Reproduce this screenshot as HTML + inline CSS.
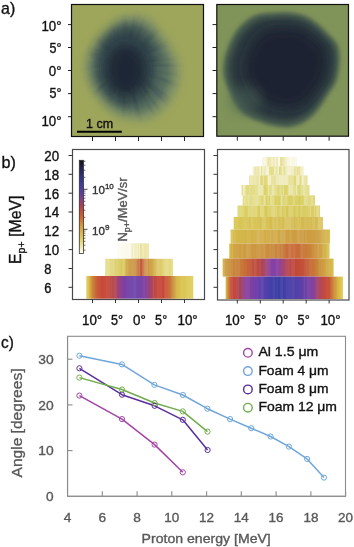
<!DOCTYPE html>
<html><head><meta charset="utf-8"><style>
html,body{margin:0;padding:0;background:#fff;width:354px;height:547px;overflow:hidden}
svg{display:block;filter:blur(0.35px)}
</style></head><body>
<svg width="354" height="547" viewBox="0 0 354 547">
<defs><mask id="mLb" maskUnits="userSpaceOnUse" x="60" y="0" width="150" height="140"><path d="M122.2,19.4 C126.6,17.3 131.4,17.3 135.5,17.5 C139.6,17.6 143.1,17.8 146.9,20.3 C150.7,22.8 154.3,27.6 158.3,32.7 C162.3,37.7 167.5,44.5 170.7,50.7 C173.8,56.9 176.7,63.5 177.3,69.7 C177.9,75.9 176.7,81.9 174.4,87.8 C172.2,93.6 168.1,100.1 164.0,104.8 C159.9,109.6 154.5,114.0 149.8,116.2 C145.0,118.5 140.6,118.5 135.5,118.2 C130.4,117.8 124.1,116.4 119.3,114.3 C114.6,112.3 111.1,109.8 107.0,105.8 C102.9,101.8 98.0,96.1 94.7,90.6 C91.3,85.1 88.2,78.1 87.1,72.5 C85.9,67.0 86.4,62.4 88.0,57.4 C89.6,52.3 93.1,46.7 96.5,42.2 C100.0,37.6 104.6,33.6 108.9,29.8 C113.2,26.0 117.8,21.4 122.2,19.4Z" fill="#fff" filter="url(#blur4)"/></mask><linearGradient id="g1" gradientUnits="userSpaceOnUse" x1="117" y1="0" x2="149" y2="0"><stop offset="0.0000" stop-color="#fdfcf4" stop-opacity="1"/><stop offset="0.4375" stop-color="#fbf9ec" stop-opacity="1"/><stop offset="0.4844" stop-color="#ece6a4" stop-opacity="1"/><stop offset="0.7188" stop-color="#e8e098" stop-opacity="1"/><stop offset="0.9875" stop-color="#eee8b0" stop-opacity="1"/></linearGradient><linearGradient id="g2" gradientUnits="userSpaceOnUse" x1="105.3" y1="0" x2="173" y2="0"><stop offset="0.0000" stop-color="#e2d87c" stop-opacity="1"/><stop offset="0.1433" stop-color="#dcd06a" stop-opacity="1"/><stop offset="0.2762" stop-color="#d8c456" stop-opacity="1"/><stop offset="0.3353" stop-color="#cea044" stop-opacity="1"/><stop offset="0.4535" stop-color="#c88c3a" stop-opacity="1"/><stop offset="0.4978" stop-color="#c4623a" stop-opacity="1"/><stop offset="0.5273" stop-color="#c05030" stop-opacity="1"/><stop offset="0.5569" stop-color="#c4683a" stop-opacity="1"/><stop offset="0.6160" stop-color="#cc9440" stop-opacity="1"/><stop offset="0.6898" stop-color="#d0a444" stop-opacity="1"/><stop offset="0.7784" stop-color="#d8c050" stop-opacity="1"/><stop offset="0.8966" stop-color="#e0d470" stop-opacity="1"/><stop offset="1.0000" stop-color="#e4da80" stop-opacity="1"/></linearGradient><linearGradient id="g3" gradientUnits="userSpaceOnUse" x1="86.3" y1="0" x2="193.3" y2="0"><stop offset="0.0000" stop-color="#e0cc58" stop-opacity="1"/><stop offset="0.0252" stop-color="#d8bc48" stop-opacity="1"/><stop offset="0.0533" stop-color="#cc8c3c" stop-opacity="1"/><stop offset="0.0907" stop-color="#c86438" stop-opacity="1"/><stop offset="0.1280" stop-color="#c84c38" stop-opacity="1"/><stop offset="0.2028" stop-color="#c44438" stop-opacity="1"/><stop offset="0.2589" stop-color="#b44448" stop-opacity="1"/><stop offset="0.3056" stop-color="#9a4080" stop-opacity="1"/><stop offset="0.3523" stop-color="#7c40a4" stop-opacity="1"/><stop offset="0.4271" stop-color="#6c40aa" stop-opacity="1"/><stop offset="0.5019" stop-color="#7040a8" stop-opacity="1"/><stop offset="0.5579" stop-color="#8440a0" stop-opacity="1"/><stop offset="0.6047" stop-color="#a84460" stop-opacity="1"/><stop offset="0.6514" stop-color="#c44840" stop-opacity="1"/><stop offset="0.7262" stop-color="#c84838" stop-opacity="1"/><stop offset="0.7729" stop-color="#c86838" stop-opacity="1"/><stop offset="0.8103" stop-color="#cc9040" stop-opacity="1"/><stop offset="0.8570" stop-color="#d8bc48" stop-opacity="1"/><stop offset="0.9318" stop-color="#dcc858" stop-opacity="1"/><stop offset="1.0000" stop-color="#e2d264" stop-opacity="1"/></linearGradient><linearGradient id="g4" gradientUnits="userSpaceOnUse" x1="262" y1="0" x2="297" y2="0"><stop offset="0.0000" stop-color="#f4f0d0" stop-opacity="1"/><stop offset="0.1143" stop-color="#e6e094" stop-opacity="1"/><stop offset="0.6571" stop-color="#e4de8c" stop-opacity="1"/><stop offset="0.8286" stop-color="#ece6a8" stop-opacity="1"/><stop offset="1.0000" stop-color="#f6f2d4" stop-opacity="1"/></linearGradient><linearGradient id="g5" gradientUnits="userSpaceOnUse" x1="252.5" y1="0" x2="303.5" y2="0"><stop offset="0.0000" stop-color="#f4f0d0" stop-opacity="1"/><stop offset="0.1078" stop-color="#e2dc84" stop-opacity="1"/><stop offset="0.8333" stop-color="#e0da80" stop-opacity="1"/><stop offset="1.0000" stop-color="#ece6a8" stop-opacity="1"/></linearGradient><linearGradient id="g6" gradientUnits="userSpaceOnUse" x1="249" y1="0" x2="307.5" y2="0"><stop offset="0.0000" stop-color="#ece6a8" stop-opacity="1"/><stop offset="0.0855" stop-color="#e0d87a" stop-opacity="1"/><stop offset="0.8718" stop-color="#dfd776" stop-opacity="1"/><stop offset="1.0000" stop-color="#e8e296" stop-opacity="1"/></linearGradient><linearGradient id="g7" gradientUnits="userSpaceOnUse" x1="241.5" y1="0" x2="310" y2="0"><stop offset="0.0000" stop-color="#e6e092" stop-opacity="1"/><stop offset="0.0657" stop-color="#dcd46a" stop-opacity="1"/><stop offset="0.8540" stop-color="#dad266" stop-opacity="1"/><stop offset="1.0000" stop-color="#e2dc80" stop-opacity="1"/></linearGradient><linearGradient id="g8" gradientUnits="userSpaceOnUse" x1="242.6" y1="0" x2="315" y2="0"><stop offset="0.0000" stop-color="#e4de88" stop-opacity="1"/><stop offset="0.1022" stop-color="#dad264" stop-opacity="1"/><stop offset="0.8619" stop-color="#d8ce5e" stop-opacity="1"/><stop offset="1.0000" stop-color="#dfd674" stop-opacity="1"/></linearGradient><linearGradient id="g9" gradientUnits="userSpaceOnUse" x1="237.5" y1="0" x2="320" y2="0"><stop offset="0.0000" stop-color="#dcd468" stop-opacity="1"/><stop offset="0.0909" stop-color="#d8cc58" stop-opacity="1"/><stop offset="0.7576" stop-color="#d6c654" stop-opacity="1"/><stop offset="1.0000" stop-color="#dacc5e" stop-opacity="1"/></linearGradient><linearGradient id="g10" gradientUnits="userSpaceOnUse" x1="233.7" y1="0" x2="323" y2="0"><stop offset="0.0000" stop-color="#dccc5c" stop-opacity="1"/><stop offset="0.0705" stop-color="#d8c450" stop-opacity="1"/><stop offset="0.6305" stop-color="#d4ba4c" stop-opacity="1"/><stop offset="0.9104" stop-color="#d4b84c" stop-opacity="1"/><stop offset="1.0000" stop-color="#dac458" stop-opacity="1"/></linearGradient><linearGradient id="g11" gradientUnits="userSpaceOnUse" x1="230.6" y1="0" x2="330" y2="0"><stop offset="0.0000" stop-color="#d8c250" stop-opacity="1"/><stop offset="0.0543" stop-color="#d4b84a" stop-opacity="1"/><stop offset="0.3964" stop-color="#d2aa46" stop-opacity="1"/><stop offset="0.6982" stop-color="#cc9a40" stop-opacity="1"/><stop offset="0.8793" stop-color="#cea044" stop-opacity="1"/><stop offset="1.0000" stop-color="#d8c050" stop-opacity="1"/></linearGradient><linearGradient id="g12" gradientUnits="userSpaceOnUse" x1="229.3" y1="0" x2="329.5" y2="0"><stop offset="0.0000" stop-color="#d8bc48" stop-opacity="1"/><stop offset="0.0569" stop-color="#cea040" stop-opacity="1"/><stop offset="0.3064" stop-color="#cc9640" stop-opacity="1"/><stop offset="0.4860" stop-color="#c8843a" stop-opacity="1"/><stop offset="0.5858" stop-color="#c86c38" stop-opacity="1"/><stop offset="0.6856" stop-color="#c86c38" stop-opacity="1"/><stop offset="0.7854" stop-color="#c88038" stop-opacity="1"/><stop offset="0.8852" stop-color="#cc9840" stop-opacity="1"/><stop offset="1.0000" stop-color="#d8c44c" stop-opacity="1"/></linearGradient><linearGradient id="g13" gradientUnits="userSpaceOnUse" x1="222.6" y1="0" x2="333.6" y2="0"><stop offset="0.0000" stop-color="#d8c050" stop-opacity="1"/><stop offset="0.0261" stop-color="#cc9a40" stop-opacity="1"/><stop offset="0.0847" stop-color="#c88838" stop-opacity="1"/><stop offset="0.1748" stop-color="#c87838" stop-opacity="1"/><stop offset="0.2468" stop-color="#c45a3a" stop-opacity="1"/><stop offset="0.3189" stop-color="#bc4840" stop-opacity="1"/><stop offset="0.3730" stop-color="#a84460" stop-opacity="1"/><stop offset="0.4270" stop-color="#8c40a0" stop-opacity="1"/><stop offset="0.4811" stop-color="#8040a8" stop-opacity="1"/><stop offset="0.5261" stop-color="#9a4488" stop-opacity="1"/><stop offset="0.5892" stop-color="#b84850" stop-opacity="1"/><stop offset="0.6613" stop-color="#c04838" stop-opacity="1"/><stop offset="0.7423" stop-color="#c45438" stop-opacity="1"/><stop offset="0.8054" stop-color="#c87038" stop-opacity="1"/><stop offset="0.8595" stop-color="#c88838" stop-opacity="1"/><stop offset="0.9225" stop-color="#d0a444" stop-opacity="1"/><stop offset="1.0000" stop-color="#d8c050" stop-opacity="1"/></linearGradient><linearGradient id="g14" gradientUnits="userSpaceOnUse" x1="225.6" y1="0" x2="343" y2="0"><stop offset="0.0000" stop-color="#d8c048" stop-opacity="1"/><stop offset="0.0204" stop-color="#cc8838" stop-opacity="1"/><stop offset="0.0460" stop-color="#c84c38" stop-opacity="1"/><stop offset="0.0886" stop-color="#c04640" stop-opacity="1"/><stop offset="0.1227" stop-color="#a84458" stop-opacity="1"/><stop offset="0.1738" stop-color="#8a40a0" stop-opacity="1"/><stop offset="0.2504" stop-color="#7440a8" stop-opacity="1"/><stop offset="0.3101" stop-color="#5c40ac" stop-opacity="1"/><stop offset="0.3782" stop-color="#4440a8" stop-opacity="1"/><stop offset="0.4634" stop-color="#3c3ea4" stop-opacity="1"/><stop offset="0.5486" stop-color="#4840a8" stop-opacity="1"/><stop offset="0.6337" stop-color="#5840a8" stop-opacity="1"/><stop offset="0.6934" stop-color="#7040a4" stop-opacity="1"/><stop offset="0.7445" stop-color="#8440a0" stop-opacity="1"/><stop offset="0.7871" stop-color="#a84468" stop-opacity="1"/><stop offset="0.8382" stop-color="#c44840" stop-opacity="1"/><stop offset="0.8893" stop-color="#c85834" stop-opacity="1"/><stop offset="0.9233" stop-color="#cc8c38" stop-opacity="1"/><stop offset="0.9574" stop-color="#d8b840" stop-opacity="1"/><stop offset="1.0000" stop-color="#e0d060" stop-opacity="1"/></linearGradient><linearGradient id="cmr" x1="0" y1="0" x2="0" y2="1"><stop offset="0" stop-color="#111"/><stop offset="0.1" stop-color="#262660"/><stop offset="0.25" stop-color="#3c3c9c"/><stop offset="0.38" stop-color="#6a3c9c"/><stop offset="0.5" stop-color="#b84048"/><stop offset="0.6" stop-color="#d06030"/><stop offset="0.72" stop-color="#d8a038"/><stop offset="0.85" stop-color="#e0d060"/><stop offset="1" stop-color="#fffff4"/></linearGradient>
<filter id="blur1" x="-10%" y="-10%" width="120%" height="120%"><feGaussianBlur stdDeviation="0.8"/></filter>
<filter id="blur2" x="-10%" y="-10%" width="120%" height="120%"><feGaussianBlur stdDeviation="2"/></filter>
<filter id="blur3" x="-30%" y="-30%" width="160%" height="160%"><feGaussianBlur stdDeviation="3"/></filter>
<filter id="blur4" x="-30%" y="-30%" width="160%" height="160%"><feGaussianBlur stdDeviation="4"/></filter>
<filter id="blur7" x="-30%" y="-30%" width="160%" height="160%"><feGaussianBlur stdDeviation="8"/></filter>
<filter id="blur5" x="-30%" y="-30%" width="160%" height="160%"><feGaussianBlur stdDeviation="6"/></filter>
<clipPath id="clipL"><rect x="71.5" y="4.5" width="132.5" height="132"/></clipPath>
<clipPath id="clipR"><rect x="216.5" y="4.5" width="132" height="132"/></clipPath>
</defs>
<text x="1" y="14" font-size="17" font-family="Liberation Sans, sans-serif" fill="#111" textLength="14.2" lengthAdjust="spacingAndGlyphs" stroke="#111" stroke-width="0.35">a)</text>
<text x="1.6" y="168" font-size="17" font-family="Liberation Sans, sans-serif" fill="#111" textLength="14.4" lengthAdjust="spacingAndGlyphs" stroke="#111" stroke-width="0.35">b)</text>
<text x="1" y="348" font-size="17" font-family="Liberation Sans, sans-serif" fill="#111" textLength="12.8" lengthAdjust="spacingAndGlyphs" stroke="#111" stroke-width="0.35">c)</text>
<g id="pa">
<rect x="71.5" y="4.5" width="132.0" height="132.0" fill="#9ea65c"/>
<rect x="216.8" y="4.5" width="131.7" height="131.7" fill="#809359"/>
<g clip-path="url(#clipL)">
<path d="M122.0,17.0 C126.7,14.8 131.7,14.8 136.0,15.0 C140.3,15.2 144.0,15.3 148.0,18.0 C152.0,20.7 155.8,25.7 160.0,31.0 C164.2,36.3 169.7,43.5 173.0,50.0 C176.3,56.5 179.3,63.5 180.0,70.0 C180.7,76.5 179.3,82.8 177.0,89.0 C174.7,95.2 170.3,102.0 166.0,107.0 C161.7,112.0 156.0,116.7 151.0,119.0 C146.0,121.3 141.3,121.3 136.0,121.0 C130.7,120.7 124.0,119.2 119.0,117.0 C114.0,114.8 110.3,112.2 106.0,108.0 C101.7,103.8 96.5,97.8 93.0,92.0 C89.5,86.2 86.2,78.8 85.0,73.0 C83.8,67.2 84.3,62.3 86.0,57.0 C87.7,51.7 91.3,45.8 95.0,41.0 C98.7,36.2 103.5,32.0 108.0,28.0 C112.5,24.0 117.3,19.2 122.0,17.0Z" fill="#7a8e6c" filter="url(#blur4)" opacity="0.8"/>
<path d="M123.0,24.8 C126.9,23.0 131.1,23.0 134.7,23.2 C138.4,23.3 141.4,23.4 144.8,25.7 C148.2,27.9 151.4,32.1 154.9,36.6 C158.4,41.1 163.0,47.1 165.8,52.6 C168.6,58.0 171.1,63.9 171.7,69.4 C172.2,74.8 171.1,80.1 169.2,85.3 C167.2,90.5 163.6,96.2 159.9,100.4 C156.3,104.6 151.5,108.6 147.3,110.5 C143.1,112.5 139.2,112.5 134.7,112.2 C130.2,111.9 124.6,110.7 120.4,108.8 C116.2,107.0 113.2,104.8 109.5,101.3 C105.9,97.8 101.5,92.7 98.6,87.8 C95.7,82.9 92.9,76.8 91.9,71.9 C90.9,67.0 91.3,62.9 92.7,58.4 C94.1,54.0 97.2,49.1 100.3,45.0 C103.4,40.9 107.4,37.4 111.2,34.1 C115.0,30.7 119.0,26.7 123.0,24.8Z" fill="#506860" filter="url(#blur4)" opacity="0.9"/>
<ellipse cx="127" cy="66" rx="30" ry="40" fill="#32444c" filter="url(#blur5)"/>
<ellipse cx="126" cy="70" rx="19" ry="25" fill="#1e2834" filter="url(#blur5)"/>
<g mask="url(#mLb)"><g filter="url(#blur1)"><path d="M156.7,64.0 L185.0,64.0 L185.0,66.2 L156.6,65.2Z" fill="#1e2a34" opacity="0.05"/><path d="M160.4,65.3 L185.0,66.2 L184.8,69.4 L160.3,67.2Z" fill="#a0a868" opacity="0.02"/><path d="M154.4,66.7 L184.8,69.4 L184.5,71.6 L154.3,67.8Z" fill="#a0a868" opacity="0.09"/><path d="M149.2,67.1 L184.5,71.6 L183.9,75.3 L149.0,68.6Z" fill="#a0a868" opacity="0.06"/><path d="M158.2,70.4 L183.9,75.3 L183.2,78.5 L157.9,72.2Z" fill="#1e2a34" opacity="0.06"/><path d="M155.5,71.6 L183.2,78.5 L182.3,81.7 L155.1,73.3Z" fill="#a0a868" opacity="0.07"/><path d="M153.2,72.7 L182.3,81.7 L181.6,83.9 L152.9,73.8Z" fill="#a0a868" opacity="0.08"/><path d="M159.6,76.2 L181.6,83.9 L180.3,87.2 L158.9,78.2Z" fill="#1e2a34" opacity="0.07"/><path d="M159.1,78.3 L180.3,87.2 L179.3,89.5 L158.5,79.7Z" fill="#1e2a34" opacity="0.05"/><path d="M148.0,74.8 L179.3,89.5 L177.5,93.0 L147.3,76.3Z" fill="#a0a868" opacity="0.03"/><path d="M148.5,77.0 L177.5,93.0 L175.4,96.5 L147.5,78.5Z" fill="#a0a868" opacity="0.06"/><path d="M151.4,81.0 L175.4,96.5 L173.8,98.9 L150.5,82.2Z" fill="#a0a868" opacity="0.04"/><path d="M155.0,85.4 L173.8,98.9 L171.9,101.4 L153.8,87.0Z" fill="#1e2a34" opacity="0.07"/><path d="M144.2,79.3 L171.9,101.4 L169.5,104.3 L143.2,80.5Z" fill="#1e2a34" opacity="0.07"/><path d="M148.0,84.9 L169.5,104.3 L166.8,107.0 L146.7,86.3Z" fill="#1e2a34" opacity="0.08"/><path d="M146.7,86.4 L166.8,107.0 L164.3,109.4 L145.4,87.6Z" fill="#a0a868" opacity="0.08"/><path d="M149.8,92.6 L164.3,109.4 L162.5,110.8 L148.6,93.5Z" fill="#a0a868" opacity="0.08"/><path d="M140.3,83.1 L162.5,110.8 L161.1,112.0 L139.7,83.5Z" fill="#1e2a34" opacity="0.05"/><path d="M138.6,82.1 L161.1,112.0 L159.2,113.3 L137.9,82.7Z" fill="#1e2a34" opacity="0.08"/><path d="M140.5,86.4 L159.2,113.3 L156.5,115.1 L139.3,87.2Z" fill="#a0a868" opacity="0.07"/><path d="M144.9,96.3 L156.5,115.1 L153.1,117.0 L142.8,97.5Z" fill="#1e2a34" opacity="0.06"/><path d="M135.6,83.9 L153.1,117.0 L151.0,118.1 L134.8,84.3Z" fill="#a0a868" opacity="0.06"/><path d="M135.6,86.1 L151.0,118.1 L149.1,118.9 L134.8,86.4Z" fill="#a0a868" opacity="0.06"/><path d="M140.0,98.2 L149.1,118.9 L147.6,119.6 L139.0,98.6Z" fill="#1e2a34" opacity="0.04"/><path d="M136.4,92.1 L147.6,119.6 L143.9,120.9 L134.6,92.8Z" fill="#a0a868" opacity="0.05"/><path d="M135.1,94.3 L143.9,120.9 L140.8,121.9 L133.4,94.8Z" fill="#1e2a34" opacity="0.06"/><path d="M133.8,96.3 L140.8,121.9 L136.9,122.8 L131.6,96.9Z" fill="#1e2a34" opacity="0.05"/><path d="M131.0,93.7 L136.9,122.8 L134.7,123.2 L129.9,93.9Z" fill="#a0a868" opacity="0.09"/><path d="M130.1,94.9 L134.7,123.2 L131.7,123.6 L128.5,95.1Z" fill="#a0a868" opacity="0.05"/><path d="M127.6,86.8 L131.7,123.6 L130.1,123.8 L127.0,86.9Z" fill="#1e2a34" opacity="0.06"/><path d="M127.4,91.5 L130.1,123.8 L126.9,124.0 L125.9,91.6Z" fill="#a0a868" opacity="0.07"/><path d="M125.7,87.0 L126.9,124.0 L123.5,124.0 L124.4,87.0Z" fill="#1e2a34" opacity="0.02"/><path d="M124.3,93.3 L123.5,124.0 L120.1,123.8 L122.6,93.2Z" fill="#1e2a34" opacity="0.04"/><path d="M122.8,90.9 L120.1,123.8 L117.0,123.5 L121.4,90.8Z" fill="#a0a868" opacity="0.05"/><path d="M121.3,91.8 L117.0,123.5 L114.5,123.1 L120.1,91.6Z" fill="#1e2a34" opacity="0.04"/><path d="M119.1,97.2 L114.5,123.1 L111.0,122.3 L117.1,96.8Z" fill="#a0a868" opacity="0.06"/><path d="M119.0,89.1 L111.0,122.3 L108.7,121.7 L118.0,88.8Z" fill="#a0a868" opacity="0.08"/><path d="M118.6,86.7 L108.7,121.7 L106.7,121.2 L117.8,86.5Z" fill="#a0a868" opacity="0.07"/><path d="M116.2,91.6 L106.7,121.2 L104.5,120.4 L115.1,91.3Z" fill="#a0a868" opacity="0.08"/><path d="M113.9,94.4 L104.5,120.4 L100.9,119.0 L112.0,93.7Z" fill="#a0a868" opacity="0.04"/><path d="M115.4,85.9 L100.9,119.0 L97.4,117.3 L114.0,85.3Z" fill="#a0a868" opacity="0.04"/><path d="M108.7,95.4 L97.4,117.3 L94.8,115.9 L107.2,94.6Z" fill="#a0a868" opacity="0.08"/><path d="M108.8,91.9 L94.8,115.9 L93.1,114.8 L107.8,91.3Z" fill="#a0a868" opacity="0.08"/><path d="M110.8,86.6 L93.1,114.8 L90.0,112.7 L109.4,85.7Z" fill="#a0a868" opacity="0.03"/><path d="M108.3,87.3 L90.0,112.7 L87.1,110.5 L106.9,86.2Z" fill="#a0a868" opacity="0.04"/><path d="M109.5,83.0 L87.1,110.5 L85.1,108.8 L108.7,82.3Z" fill="#a0a868" opacity="0.08"/><path d="M99.9,92.2 L85.1,108.8 L83.9,107.7 L99.1,91.5Z" fill="#1e2a34" opacity="0.08"/><path d="M107.5,82.6 L83.9,107.7 L82.0,105.8 L106.7,81.8Z" fill="#1e2a34" opacity="0.08"/><path d="M103.3,85.1 L82.0,105.8 L79.6,103.2 L102.1,83.8Z" fill="#1e2a34" opacity="0.07"/><path d="M107.5,79.1 L79.6,103.2 L78.1,101.4 L107.0,78.4Z" fill="#a0a868" opacity="0.04"/><path d="M107.2,78.2 L78.1,101.4 L76.2,99.0 L106.5,77.2Z" fill="#a0a868" opacity="0.08"/><path d="M95.5,85.2 L76.2,99.0 L74.0,95.7 L94.1,83.2Z" fill="#1e2a34" opacity="0.08"/><path d="M96.2,81.9 L74.0,95.7 L72.1,92.3 L95.1,80.0Z" fill="#1e2a34" opacity="0.02"/><path d="M98.2,78.3 L72.1,92.3 L71.2,90.5 L97.7,77.4Z" fill="#a0a868" opacity="0.07"/><path d="M100.4,76.1 L71.2,90.5 L70.0,88.1 L99.8,75.0Z" fill="#1e2a34" opacity="0.06"/><path d="M93.4,77.9 L70.0,88.1 L69.2,86.0 L92.9,76.7Z" fill="#1e2a34" opacity="0.05"/><path d="M92.4,76.9 L69.2,86.0 L68.3,83.7 L91.9,75.5Z" fill="#a0a868" opacity="0.06"/><path d="M92.0,75.4 L68.3,83.7 L67.7,81.8 L91.7,74.3Z" fill="#1e2a34" opacity="0.08"/><path d="M90.8,74.6 L67.7,81.8 L66.7,78.2 L90.2,72.5Z" fill="#a0a868" opacity="0.06"/><path d="M95.4,71.2 L66.7,78.2 L66.3,76.5 L95.2,70.3Z" fill="#a0a868" opacity="0.04"/><path d="M103.5,68.6 L66.3,76.5 L65.8,73.9 L103.3,67.6Z" fill="#a0a868" opacity="0.07"/><path d="M102.2,67.8 L65.8,73.9 L65.6,72.2 L102.1,67.2Z" fill="#a0a868" opacity="0.03"/><path d="M95.2,68.1 L65.6,72.2 L65.1,68.1 L95.0,66.0Z" fill="#1e2a34" opacity="0.03"/><path d="M92.7,66.2 L65.1,68.1 L65.0,65.7 L92.7,64.9Z" fill="#a0a868" opacity="0.04"/><path d="M97.8,64.8 L65.0,65.7 L65.0,62.6 L97.7,63.4Z" fill="#a0a868" opacity="0.03"/><path d="M96.9,63.3 L65.0,62.6 L65.1,60.7 L97.0,62.5Z" fill="#1e2a34" opacity="0.07"/><path d="M93.4,62.3 L65.1,60.7 L65.2,58.9 L93.4,61.3Z" fill="#a0a868" opacity="0.05"/><path d="M93.1,61.3 L65.2,58.9 L65.6,55.3 L93.4,59.4Z" fill="#a0a868" opacity="0.08"/><path d="M92.1,59.2 L65.6,55.3 L66.1,52.7 L92.4,57.7Z" fill="#a0a868" opacity="0.05"/><path d="M99.5,59.1 L66.1,52.7 L66.6,50.0 L99.8,58.0Z" fill="#1e2a34" opacity="0.05"/><path d="M97.0,57.3 L66.6,50.0 L67.4,47.2 L97.4,55.9Z" fill="#1e2a34" opacity="0.03"/><path d="M98.1,56.2 L67.4,47.2 L68.2,44.6 L98.5,55.0Z" fill="#1e2a34" opacity="0.09"/><path d="M97.2,54.5 L68.2,44.6 L69.6,40.9 L97.8,52.7Z" fill="#1e2a34" opacity="0.04"/><path d="M91.6,50.1 L69.6,40.9 L70.4,39.2 L92.0,49.0Z" fill="#1e2a34" opacity="0.07"/><path d="M96.7,51.2 L70.4,39.2 L72.0,35.9 L97.6,49.5Z" fill="#1e2a34" opacity="0.07"/><path d="M103.5,52.6 L72.0,35.9 L72.9,34.3 L103.9,52.0Z" fill="#1e2a34" opacity="0.02"/><path d="M104.5,52.3 L72.9,34.3 L74.7,31.3 L105.2,51.1Z" fill="#a0a868" opacity="0.03"/><path d="M95.3,44.6 L74.7,31.3 L76.9,28.1 L96.6,42.8Z" fill="#a0a868" opacity="0.02"/><path d="M96.7,42.8 L76.9,28.1 L78.1,26.6 L97.3,41.9Z" fill="#1e2a34" opacity="0.07"/><path d="M107.3,49.9 L78.1,26.6 L80.7,23.5 L108.3,48.8Z" fill="#1e2a34" opacity="0.08"/><path d="M107.5,48.0 L80.7,23.5 L83.2,20.9 L108.5,47.0Z" fill="#1e2a34" opacity="0.07"/><path d="M106.1,44.5 L83.2,20.9 L85.8,18.5 L107.3,43.4Z" fill="#1e2a34" opacity="0.02"/><path d="M108.8,45.2 L85.8,18.5 L88.2,16.6 L109.7,44.4Z" fill="#1e2a34" opacity="0.04"/><path d="M107.6,41.7 L88.2,16.6 L90.0,15.3 L108.5,41.0Z" fill="#1e2a34" opacity="0.07"/><path d="M108.3,40.7 L90.0,15.3 L92.1,13.8 L109.3,40.0Z" fill="#a0a868" opacity="0.04"/><path d="M109.3,40.1 L92.1,13.8 L93.6,12.9 L110.0,39.6Z" fill="#1e2a34" opacity="0.09"/><path d="M107.1,35.0 L93.6,12.9 L96.6,11.1 L108.9,34.0Z" fill="#a0a868" opacity="0.07"/><path d="M109.7,35.5 L96.6,11.1 L99.6,9.6 L111.3,34.7Z" fill="#1e2a34" opacity="0.05"/><path d="M110.6,33.2 L99.6,9.6 L103.2,8.1 L112.7,32.3Z" fill="#a0a868" opacity="0.03"/><path d="M112.8,32.8 L103.2,8.1 L107.0,6.8 L114.9,32.0Z" fill="#1e2a34" opacity="0.05"/><path d="M115.6,34.1 L107.0,6.8 L108.9,6.2 L116.6,33.8Z" fill="#a0a868" opacity="0.03"/><path d="M115.0,28.1 L108.9,6.2 L111.3,5.6 L116.5,27.7Z" fill="#a0a868" opacity="0.07"/><path d="M116.8,29.3 L111.3,5.6 L113.5,5.1 L118.2,29.0Z" fill="#1e2a34" opacity="0.05"/><path d="M120.7,42.0 L113.5,5.1 L116.6,4.6 L121.9,41.9Z" fill="#a0a868" opacity="0.04"/><path d="M121.1,36.5 L116.6,4.6 L119.4,4.3 L122.4,36.4Z" fill="#a0a868" opacity="0.03"/><path d="M121.5,26.3 L119.4,4.3 L121.8,4.1 L123.0,26.2Z" fill="#1e2a34" opacity="0.03"/><path d="M123.1,28.7 L121.8,4.1 L124.6,4.0 L124.8,28.6Z" fill="#1e2a34" opacity="0.05"/><path d="M124.8,30.5 L124.6,4.0 L128.4,4.1 L126.9,30.5Z" fill="#1e2a34" opacity="0.05"/><path d="M127.1,26.7 L128.4,4.1 L132.2,4.4 L129.5,26.9Z" fill="#a0a868" opacity="0.07"/><path d="M129.0,30.8 L132.2,4.4 L134.9,4.8 L130.5,31.0Z" fill="#a0a868" opacity="0.04"/><path d="M129.3,38.5 L134.9,4.8 L138.2,5.5 L130.7,38.8Z" fill="#1e2a34" opacity="0.08"/><path d="M132.3,31.5 L138.2,5.5 L140.2,6.0 L133.4,31.8Z" fill="#a0a868" opacity="0.03"/><path d="M134.1,29.3 L140.2,6.0 L143.9,7.0 L136.3,30.0Z" fill="#1e2a34" opacity="0.04"/><path d="M132.4,41.8 L143.9,7.0 L146.1,7.8 L133.2,42.1Z" fill="#a0a868" opacity="0.07"/><path d="M134.8,38.1 L146.1,7.8 L147.8,8.5 L135.5,38.4Z" fill="#1e2a34" opacity="0.04"/><path d="M135.4,38.7 L147.8,8.5 L150.6,9.8 L136.7,39.3Z" fill="#1e2a34" opacity="0.02"/><path d="M138.4,35.6 L150.6,9.8 L153.1,11.0 L139.7,36.3Z" fill="#a0a868" opacity="0.03"/><path d="M136.2,42.9 L153.1,11.0 L156.6,13.0 L137.6,43.7Z" fill="#a0a868" opacity="0.06"/><path d="M144.1,33.2 L156.6,13.0 L158.5,14.2 L145.2,34.0Z" fill="#1e2a34" opacity="0.03"/><path d="M140.6,40.8 L158.5,14.2 L161.7,16.5 L142.1,41.9Z" fill="#a0a868" opacity="0.09"/><path d="M145.1,38.0 L161.7,16.5 L164.5,18.8 L146.6,39.3Z" fill="#1e2a34" opacity="0.04"/><path d="M147.4,38.4 L164.5,18.8 L166.9,21.1 L148.8,39.6Z" fill="#1e2a34" opacity="0.04"/><path d="M141.6,47.0 L166.9,21.1 L169.7,24.0 L142.8,48.1Z" fill="#1e2a34" opacity="0.06"/><path d="M149.5,42.1 L169.7,24.0 L171.6,26.2 L150.5,43.3Z" fill="#a0a868" opacity="0.07"/><path d="M149.9,43.8 L171.6,26.2 L173.5,28.6 L150.9,45.1Z" fill="#a0a868" opacity="0.07"/><path d="M144.4,49.9 L173.5,28.6 L174.6,30.3 L144.8,50.5Z" fill="#1e2a34" opacity="0.07"/><path d="M152.7,45.2 L174.6,30.3 L176.8,33.7 L153.9,47.1Z" fill="#a0a868" opacity="0.04"/><path d="M150.3,49.2 L176.8,33.7 L178.3,36.4 L151.0,50.5Z" fill="#1e2a34" opacity="0.07"/><path d="M154.7,48.6 L178.3,36.4 L179.3,38.6 L155.3,49.8Z" fill="#a0a868" opacity="0.02"/><path d="M150.1,52.2 L179.3,38.6 L180.7,41.8 L150.8,53.7Z" fill="#1e2a34" opacity="0.07"/><path d="M146.1,55.6 L180.7,41.8 L181.5,43.9 L146.4,56.4Z" fill="#a0a868" opacity="0.08"/><path d="M151.1,54.7 L181.5,43.9 L182.4,46.7 L151.5,56.0Z" fill="#a0a868" opacity="0.07"/><path d="M157.9,54.1 L182.4,46.7 L183.1,49.0 L158.3,55.4Z" fill="#a0a868" opacity="0.06"/><path d="M150.5,57.4 L183.1,49.0 L183.7,51.5 L150.7,58.5Z" fill="#1e2a34" opacity="0.03"/><path d="M157.9,57.0 L183.7,51.5 L184.0,53.3 L158.1,58.0Z" fill="#a0a868" opacity="0.07"/><path d="M158.3,57.9 L184.0,53.3 L184.4,55.3 L158.5,59.1Z" fill="#a0a868" opacity="0.05"/><path d="M149.1,60.5 L184.4,55.3 L184.8,59.0 L149.3,62.0Z" fill="#1e2a34" opacity="0.06"/><path d="M156.0,61.4 L184.8,59.0 L185.0,61.6 L156.1,62.7Z" fill="#a0a868" opacity="0.06"/><path d="M147.5,63.1 L185.0,61.6 L185.0,63.7 L147.5,63.9Z" fill="#a0a868" opacity="0.07"/><path d="M153.1,63.8 L185.0,63.7 L184.9,67.3 L153.1,65.6Z" fill="#1e2a34" opacity="0.09"/></g></g>
</g>
<g clip-path="url(#clipR)">
<path d="M254.0,16.0 C259.7,13.3 265.7,13.5 272.0,13.0 C278.3,12.5 285.8,12.2 292.0,13.0 C298.2,13.8 303.3,14.8 309.0,18.0 C314.7,21.2 321.1,26.8 326.0,32.0 C330.9,37.2 336.8,41.3 338.6,49.0 C340.4,56.7 338.8,70.5 337.0,78.0 C335.2,85.5 331.5,88.3 328.0,94.0 C324.5,99.7 320.0,107.3 316.0,112.0 C312.0,116.7 308.3,119.5 304.0,122.0 C299.7,124.5 294.7,126.3 290.0,127.0 C285.3,127.7 280.3,126.7 276.0,126.0 C271.7,125.3 269.7,125.3 264.0,123.0 C258.3,120.7 248.2,118.2 242.0,112.0 C235.8,105.8 230.1,93.5 227.0,86.0 C223.9,78.5 223.3,73.3 223.5,67.0 C223.7,60.7 225.6,54.3 228.0,48.0 C230.4,41.7 233.7,34.3 238.0,29.0 C242.3,23.7 248.3,18.7 254.0,16.0Z" fill="#465c50" filter="url(#blur2)"/>
<path d="M256.9,21.2 C262.0,18.8 267.4,18.9 273.1,18.5 C278.8,18.1 285.6,17.8 291.1,18.5 C296.7,19.2 301.3,20.1 306.4,23.0 C311.5,25.9 317.3,31.0 321.7,35.6 C326.1,40.2 331.4,44.0 333.0,50.9 C334.7,57.8 333.2,70.2 331.6,77.0 C330.0,83.8 326.6,86.3 323.5,91.4 C320.4,96.5 316.3,103.4 312.7,107.6 C309.1,111.8 305.8,114.3 301.9,116.6 C298.0,118.8 293.5,120.5 289.3,121.1 C285.1,121.7 280.6,120.8 276.7,120.2 C272.8,119.6 271.0,119.6 265.9,117.5 C260.8,115.4 251.6,113.1 246.1,107.6 C240.6,102.0 235.4,91.0 232.6,84.2 C229.8,77.5 229.3,72.8 229.4,67.1 C229.6,61.4 231.3,55.7 233.5,50.0 C235.7,44.3 238.6,37.7 242.5,32.9 C246.4,28.1 251.8,23.6 256.9,21.2Z" fill="#2a383e" filter="url(#blur3)"/>
<path d="M266.6,30.4 C270.6,28.5 274.8,28.7 279.2,28.3 C283.6,28.0 288.9,27.7 293.2,28.3 C297.5,28.9 301.1,29.6 305.1,31.8 C309.1,34.0 313.5,38.0 317.0,41.6 C320.5,45.2 324.5,48.1 325.8,53.5 C327.1,58.9 325.9,68.5 324.7,73.8 C323.5,79.0 320.8,81.0 318.4,85.0 C315.9,89.0 312.8,94.3 310.0,97.6 C307.2,100.9 304.6,102.8 301.6,104.6 C298.6,106.3 295.1,107.6 291.8,108.1 C288.5,108.6 285.0,107.9 282.0,107.4 C279.0,106.9 277.6,106.9 273.6,105.3 C269.6,103.7 262.5,101.9 258.2,97.6 C253.9,93.3 249.9,84.7 247.7,79.4 C245.5,74.2 245.1,70.5 245.2,66.1 C245.4,61.7 246.7,57.2 248.4,52.8 C250.1,48.4 252.4,43.2 255.4,39.5 C258.4,35.8 262.6,32.3 266.6,30.4Z" fill="#1c2430" filter="url(#blur5)"/>
<ellipse cx="246" cy="100" rx="16" ry="14" fill="#4a5e54" opacity="0.55" filter="url(#blur5)"/>
</g>
<rect x="71.5" y="4.5" width="132.0" height="132.0" fill="none" stroke="#111" stroke-width="1.2"/>
<rect x="216.8" y="4.5" width="131.7" height="131.7" fill="none" stroke="#111" stroke-width="1.2"/>
<line x1="77" y1="131.8" x2="121.8" y2="131.8" stroke="#000" stroke-width="2"/>
<text x="86" y="128" font-size="12.5" font-family="Liberation Sans, sans-serif" fill="#111" stroke="#111" stroke-width="0.35">1 cm</text>
<line x1="68" y1="24.6" x2="71.5" y2="24.6" stroke="#222" stroke-width="1"/>
<line x1="212.5" y1="24.6" x2="216.8" y2="24.6" stroke="#222" stroke-width="1"/>
<line x1="68" y1="47.5" x2="71.5" y2="47.5" stroke="#222" stroke-width="1"/>
<line x1="212.5" y1="47.5" x2="216.8" y2="47.5" stroke="#222" stroke-width="1"/>
<line x1="68" y1="70.5" x2="71.5" y2="70.5" stroke="#222" stroke-width="1"/>
<line x1="212.5" y1="70.5" x2="216.8" y2="70.5" stroke="#222" stroke-width="1"/>
<line x1="68" y1="93.6" x2="71.5" y2="93.6" stroke="#222" stroke-width="1"/>
<line x1="212.5" y1="93.6" x2="216.8" y2="93.6" stroke="#222" stroke-width="1"/>
<line x1="68" y1="116.7" x2="71.5" y2="116.7" stroke="#222" stroke-width="1"/>
<line x1="212.5" y1="116.7" x2="216.8" y2="116.7" stroke="#222" stroke-width="1"/>
<text x="41.4" y="31" font-size="13.8" font-family="Liberation Sans, sans-serif" fill="#111" textLength="20.1" lengthAdjust="spacingAndGlyphs" stroke="#111" stroke-width="0.35">10°</text>
<text x="49.5" y="53.3" font-size="13.8" font-family="Liberation Sans, sans-serif" fill="#111" textLength="12.0" lengthAdjust="spacingAndGlyphs" stroke="#111" stroke-width="0.35">5°</text>
<text x="48.8" y="75.6" font-size="13.8" font-family="Liberation Sans, sans-serif" fill="#111" textLength="12.7" lengthAdjust="spacingAndGlyphs" stroke="#111" stroke-width="0.35">0°</text>
<text x="49.5" y="98.1" font-size="13.8" font-family="Liberation Sans, sans-serif" fill="#111" textLength="12.0" lengthAdjust="spacingAndGlyphs" stroke="#111" stroke-width="0.35">5°</text>
<text x="41.4" y="126.3" font-size="13.8" font-family="Liberation Sans, sans-serif" fill="#111" textLength="20.1" lengthAdjust="spacingAndGlyphs" stroke="#111" stroke-width="0.35">10°</text>
<line x1="92.5" y1="136.5" x2="92.5" y2="141.0" stroke="#222" stroke-width="1"/>
<line x1="115.5" y1="136.5" x2="115.5" y2="141.0" stroke="#222" stroke-width="1"/>
<line x1="138.5" y1="136.5" x2="138.5" y2="141.0" stroke="#222" stroke-width="1"/>
<line x1="161.5" y1="136.5" x2="161.5" y2="141.0" stroke="#222" stroke-width="1"/>
<line x1="184.5" y1="136.5" x2="184.5" y2="141.0" stroke="#222" stroke-width="1"/>
<line x1="237.3" y1="136.2" x2="237.3" y2="140.7" stroke="#222" stroke-width="1"/>
<line x1="260.3" y1="136.2" x2="260.3" y2="140.7" stroke="#222" stroke-width="1"/>
<line x1="283.2" y1="136.2" x2="283.2" y2="140.7" stroke="#222" stroke-width="1"/>
<line x1="306.2" y1="136.2" x2="306.2" y2="140.7" stroke="#222" stroke-width="1"/>
<line x1="329.1" y1="136.2" x2="329.1" y2="140.7" stroke="#222" stroke-width="1"/>
</g>
<g id="pb">
<rect x="72.5" y="149.5" width="132.0" height="150.0" fill="#fff"/>
<rect x="217.5" y="149.5" width="131.5" height="150.5" fill="#fff"/>
<rect x="117" y="243.3" width="32" height="15.5" fill="url(#g1)" opacity="1"/>
<rect x="132.5" y="243.3" width="2.0" height="15.5" fill="#fff" opacity="0.57"/><rect x="134.5" y="243.3" width="2.5" height="15.5" fill="#fff" opacity="0.39"/><rect x="137.0" y="243.3" width="1.0" height="15.5" fill="#fff" opacity="0.49"/><rect x="138.0" y="243.3" width="1.0" height="15.5" fill="#fff" opacity="0.22"/><rect x="139.0" y="243.3" width="1.0" height="15.5" fill="#fff" opacity="0.55"/><rect x="141.5" y="243.3" width="2.5" height="15.5" fill="#fff" opacity="0.25"/><rect x="144.0" y="243.3" width="1.5" height="15.5" fill="#fff" opacity="0.05"/><rect x="145.5" y="243.3" width="2.5" height="15.5" fill="#fff" opacity="0.04"/><rect x="148.0" y="243.3" width="0.6" height="15.5" fill="#fff" opacity="0.07"/>
<rect x="105.3" y="258.8" width="67.7" height="17.19999999999999" fill="url(#g2)" opacity="1"/>
<rect x="105.3" y="258.8" width="1.5" height="17.2" fill="#fff" opacity="0.16"/><rect x="106.8" y="258.8" width="3.0" height="17.2" fill="#fff" opacity="0.24"/><rect x="109.8" y="258.8" width="3.0" height="17.2" fill="#fff" opacity="0.15"/><rect x="112.8" y="258.8" width="1.0" height="17.2" fill="#fff" opacity="0.24"/><rect x="113.8" y="258.8" width="1.0" height="17.2" fill="#fff" opacity="0.14"/><rect x="114.8" y="258.8" width="1.5" height="17.2" fill="#fff" opacity="0.07"/><rect x="116.3" y="258.8" width="1.5" height="17.2" fill="#fff" opacity="0.14"/><rect x="117.8" y="258.8" width="3.0" height="17.2" fill="#fff" opacity="0.08"/><rect x="122.3" y="258.8" width="3.0" height="17.2" fill="#fff" opacity="0.16"/><rect x="127.3" y="258.8" width="1.0" height="17.2" fill="#fff" opacity="0.14"/><rect x="128.3" y="258.8" width="3.0" height="17.2" fill="#fff" opacity="0.05"/><rect x="131.3" y="258.8" width="3.0" height="17.2" fill="#fff" opacity="0.11"/><rect x="134.3" y="258.8" width="2.0" height="17.2" fill="#fff" opacity="0.12"/><rect x="136.3" y="258.8" width="2.5" height="17.2" fill="#fff" opacity="0.09"/><rect x="138.8" y="258.8" width="1.5" height="17.2" fill="#fff" opacity="0.20"/><rect x="141.8" y="258.8" width="2.0" height="17.2" fill="#fff" opacity="0.13"/><rect x="143.8" y="258.8" width="2.0" height="17.2" fill="#fff" opacity="0.18"/><rect x="145.8" y="258.8" width="2.0" height="17.2" fill="#fff" opacity="0.15"/><rect x="148.8" y="258.8" width="2.5" height="17.2" fill="#fff" opacity="0.04"/><rect x="151.3" y="258.8" width="2.0" height="17.2" fill="#fff" opacity="0.04"/><rect x="153.3" y="258.8" width="2.5" height="17.2" fill="#fff" opacity="0.11"/><rect x="155.8" y="258.8" width="1.0" height="17.2" fill="#fff" opacity="0.19"/><rect x="156.8" y="258.8" width="3.0" height="17.2" fill="#fff" opacity="0.20"/><rect x="159.8" y="258.8" width="2.0" height="17.2" fill="#fff" opacity="0.09"/><rect x="161.8" y="258.8" width="2.0" height="17.2" fill="#fff" opacity="0.15"/><rect x="163.8" y="258.8" width="3.0" height="17.2" fill="#fff" opacity="0.20"/><rect x="166.8" y="258.8" width="1.0" height="17.2" fill="#fff" opacity="0.21"/><rect x="167.8" y="258.8" width="2.0" height="17.2" fill="#fff" opacity="0.12"/><rect x="170.8" y="258.8" width="2.0" height="17.2" fill="#fff" opacity="0.16"/><rect x="172.8" y="258.8" width="0.2" height="17.2" fill="#fff" opacity="0.07"/>
<rect x="86.3" y="276" width="107.00000000000001" height="22.69999999999999" fill="url(#g3)" opacity="1"/>
<rect x="86.3" y="276" width="2.5" height="22.7" fill="#fff" opacity="0.07"/><rect x="99.3" y="276" width="1.5" height="22.7" fill="#fff" opacity="0.03"/><rect x="103.3" y="276" width="2.5" height="22.7" fill="#fff" opacity="0.03"/><rect x="105.8" y="276" width="2.0" height="22.7" fill="#fff" opacity="0.07"/><rect x="107.8" y="276" width="2.5" height="22.7" fill="#fff" opacity="0.07"/><rect x="110.3" y="276" width="2.0" height="22.7" fill="#fff" opacity="0.06"/><rect x="112.3" y="276" width="2.0" height="22.7" fill="#fff" opacity="0.05"/><rect x="114.3" y="276" width="2.5" height="22.7" fill="#fff" opacity="0.08"/><rect x="126.3" y="276" width="2.5" height="22.7" fill="#fff" opacity="0.04"/><rect x="128.8" y="276" width="3.0" height="22.7" fill="#fff" opacity="0.05"/><rect x="131.8" y="276" width="1.5" height="22.7" fill="#fff" opacity="0.06"/><rect x="133.3" y="276" width="3.0" height="22.7" fill="#fff" opacity="0.08"/><rect x="136.3" y="276" width="1.0" height="22.7" fill="#fff" opacity="0.04"/><rect x="137.3" y="276" width="3.0" height="22.7" fill="#fff" opacity="0.03"/><rect x="140.3" y="276" width="2.5" height="22.7" fill="#fff" opacity="0.03"/><rect x="142.8" y="276" width="2.5" height="22.7" fill="#fff" opacity="0.05"/><rect x="146.3" y="276" width="1.5" height="22.7" fill="#fff" opacity="0.04"/><rect x="152.8" y="276" width="1.0" height="22.7" fill="#fff" opacity="0.08"/><rect x="156.8" y="276" width="1.5" height="22.7" fill="#fff" opacity="0.05"/><rect x="158.3" y="276" width="1.5" height="22.7" fill="#fff" opacity="0.05"/><rect x="159.8" y="276" width="2.0" height="22.7" fill="#fff" opacity="0.05"/><rect x="164.3" y="276" width="2.5" height="22.7" fill="#fff" opacity="0.08"/><rect x="166.8" y="276" width="2.5" height="22.7" fill="#fff" opacity="0.04"/><rect x="171.3" y="276" width="1.0" height="22.7" fill="#fff" opacity="0.06"/><rect x="172.3" y="276" width="2.0" height="22.7" fill="#fff" opacity="0.04"/><rect x="174.3" y="276" width="1.5" height="22.7" fill="#fff" opacity="0.04"/><rect x="175.8" y="276" width="1.5" height="22.7" fill="#fff" opacity="0.08"/><rect x="180.3" y="276" width="3.0" height="22.7" fill="#fff" opacity="0.07"/><rect x="186.3" y="276" width="1.0" height="22.7" fill="#fff" opacity="0.06"/><rect x="187.3" y="276" width="2.0" height="22.7" fill="#fff" opacity="0.04"/><rect x="190.8" y="276" width="1.5" height="22.7" fill="#fff" opacity="0.04"/>
<rect x="262" y="157.1" width="35" height="9.400000000000006" fill="url(#g4)" opacity="1"/>
<rect x="262.0" y="157.1" width="1.5" height="9.4" fill="#fff" opacity="0.52"/><rect x="263.5" y="157.1" width="1.5" height="9.4" fill="#fff" opacity="0.69"/><rect x="265.0" y="157.1" width="2.5" height="9.4" fill="#fff" opacity="0.63"/><rect x="267.5" y="157.1" width="1.5" height="9.4" fill="#fff" opacity="0.17"/><rect x="269.0" y="157.1" width="2.5" height="9.4" fill="#fff" opacity="0.30"/><rect x="271.5" y="157.1" width="1.0" height="9.4" fill="#fff" opacity="0.84"/><rect x="272.5" y="157.1" width="2.0" height="9.4" fill="#fff" opacity="0.40"/><rect x="274.5" y="157.1" width="1.5" height="9.4" fill="#fff" opacity="0.59"/><rect x="276.0" y="157.1" width="2.0" height="9.4" fill="#fff" opacity="0.38"/><rect x="278.0" y="157.1" width="2.0" height="9.4" fill="#fff" opacity="0.81"/><rect x="280.0" y="157.1" width="2.0" height="9.4" fill="#fff" opacity="0.07"/><rect x="282.0" y="157.1" width="1.0" height="9.4" fill="#fff" opacity="0.19"/><rect x="283.0" y="157.1" width="1.5" height="9.4" fill="#fff" opacity="0.29"/><rect x="284.5" y="157.1" width="2.5" height="9.4" fill="#fff" opacity="0.53"/><rect x="287.0" y="157.1" width="3.0" height="9.4" fill="#fff" opacity="0.71"/><rect x="290.0" y="157.1" width="2.5" height="9.4" fill="#fff" opacity="0.77"/><rect x="292.5" y="157.1" width="2.0" height="9.4" fill="#fff" opacity="0.68"/><rect x="294.5" y="157.1" width="1.0" height="9.4" fill="#fff" opacity="0.71"/><rect x="295.5" y="157.1" width="1.0" height="9.4" fill="#fff" opacity="0.77"/><rect x="296.5" y="157.1" width="0.5" height="9.4" fill="#fff" opacity="0.41"/>
<rect x="252.5" y="166.5" width="51.0" height="8.900000000000006" fill="url(#g5)" opacity="1"/>
<rect x="252.5" y="166.5" width="1.5" height="8.9" fill="#fff" opacity="0.30"/><rect x="254.0" y="166.5" width="2.0" height="8.9" fill="#fff" opacity="0.06"/><rect x="256.0" y="166.5" width="2.5" height="8.9" fill="#fff" opacity="0.32"/><rect x="258.5" y="166.5" width="1.0" height="8.9" fill="#fff" opacity="0.51"/><rect x="259.5" y="166.5" width="1.5" height="8.9" fill="#fff" opacity="0.70"/><rect x="261.0" y="166.5" width="1.0" height="8.9" fill="#fff" opacity="0.11"/><rect x="262.0" y="166.5" width="2.5" height="8.9" fill="#fff" opacity="0.56"/><rect x="264.5" y="166.5" width="1.5" height="8.9" fill="#fff" opacity="0.43"/><rect x="266.0" y="166.5" width="3.0" height="8.9" fill="#fff" opacity="0.69"/><rect x="269.0" y="166.5" width="2.0" height="8.9" fill="#fff" opacity="0.11"/><rect x="271.0" y="166.5" width="3.0" height="8.9" fill="#fff" opacity="0.09"/><rect x="274.0" y="166.5" width="1.0" height="8.9" fill="#fff" opacity="0.56"/><rect x="275.0" y="166.5" width="1.0" height="8.9" fill="#fff" opacity="0.37"/><rect x="276.0" y="166.5" width="1.5" height="8.9" fill="#fff" opacity="0.30"/><rect x="277.5" y="166.5" width="1.5" height="8.9" fill="#fff" opacity="0.58"/><rect x="280.5" y="166.5" width="1.5" height="8.9" fill="#fff" opacity="0.21"/><rect x="282.0" y="166.5" width="1.5" height="8.9" fill="#fff" opacity="0.53"/><rect x="283.5" y="166.5" width="2.0" height="8.9" fill="#fff" opacity="0.18"/><rect x="285.5" y="166.5" width="2.5" height="8.9" fill="#fff" opacity="0.58"/><rect x="288.0" y="166.5" width="1.0" height="8.9" fill="#fff" opacity="0.64"/><rect x="289.0" y="166.5" width="2.0" height="8.9" fill="#fff" opacity="0.63"/><rect x="291.0" y="166.5" width="3.0" height="8.9" fill="#fff" opacity="0.57"/><rect x="294.0" y="166.5" width="3.0" height="8.9" fill="#fff" opacity="0.29"/><rect x="297.0" y="166.5" width="3.0" height="8.9" fill="#fff" opacity="0.09"/><rect x="300.0" y="166.5" width="1.5" height="8.9" fill="#fff" opacity="0.37"/><rect x="301.5" y="166.5" width="1.0" height="8.9" fill="#fff" opacity="0.61"/><rect x="302.5" y="166.5" width="1.0" height="8.9" fill="#fff" opacity="0.43"/>
<rect x="249" y="175.4" width="58.5" height="9.599999999999994" fill="url(#g6)" opacity="1"/>
<rect x="249.0" y="175.4" width="1.5" height="9.6" fill="#fff" opacity="0.10"/><rect x="250.5" y="175.4" width="2.5" height="9.6" fill="#fff" opacity="0.37"/><rect x="253.0" y="175.4" width="1.0" height="9.6" fill="#fff" opacity="0.33"/><rect x="254.0" y="175.4" width="2.0" height="9.6" fill="#fff" opacity="0.41"/><rect x="256.0" y="175.4" width="3.0" height="9.6" fill="#fff" opacity="0.33"/><rect x="259.0" y="175.4" width="1.0" height="9.6" fill="#fff" opacity="0.53"/><rect x="260.0" y="175.4" width="1.0" height="9.6" fill="#fff" opacity="0.15"/><rect x="263.0" y="175.4" width="1.0" height="9.6" fill="#fff" opacity="0.30"/><rect x="267.0" y="175.4" width="1.0" height="9.6" fill="#fff" opacity="0.27"/><rect x="268.0" y="175.4" width="3.0" height="9.6" fill="#fff" opacity="0.58"/><rect x="271.0" y="175.4" width="3.0" height="9.6" fill="#fff" opacity="0.31"/><rect x="274.0" y="175.4" width="2.0" height="9.6" fill="#fff" opacity="0.27"/><rect x="276.0" y="175.4" width="3.0" height="9.6" fill="#fff" opacity="0.48"/><rect x="279.0" y="175.4" width="3.0" height="9.6" fill="#fff" opacity="0.56"/><rect x="282.0" y="175.4" width="3.0" height="9.6" fill="#fff" opacity="0.53"/><rect x="285.0" y="175.4" width="2.0" height="9.6" fill="#fff" opacity="0.55"/><rect x="287.0" y="175.4" width="1.5" height="9.6" fill="#fff" opacity="0.50"/><rect x="288.5" y="175.4" width="1.5" height="9.6" fill="#fff" opacity="0.25"/><rect x="290.0" y="175.4" width="2.5" height="9.6" fill="#fff" opacity="0.27"/><rect x="292.5" y="175.4" width="1.0" height="9.6" fill="#fff" opacity="0.40"/><rect x="293.5" y="175.4" width="2.5" height="9.6" fill="#fff" opacity="0.04"/><rect x="296.0" y="175.4" width="2.0" height="9.6" fill="#fff" opacity="0.47"/><rect x="298.0" y="175.4" width="1.5" height="9.6" fill="#fff" opacity="0.56"/><rect x="299.5" y="175.4" width="2.0" height="9.6" fill="#fff" opacity="0.09"/><rect x="301.5" y="175.4" width="1.5" height="9.6" fill="#fff" opacity="0.58"/><rect x="303.0" y="175.4" width="1.5" height="9.6" fill="#fff" opacity="0.45"/><rect x="304.5" y="175.4" width="1.0" height="9.6" fill="#fff" opacity="0.24"/><rect x="305.5" y="175.4" width="2.0" height="9.6" fill="#fff" opacity="0.10"/>
<rect x="241.5" y="185" width="68.5" height="10.300000000000011" fill="url(#g7)" opacity="1"/>
<rect x="241.5" y="185" width="1.5" height="10.3" fill="#fff" opacity="0.08"/><rect x="243.0" y="185" width="2.5" height="10.3" fill="#fff" opacity="0.50"/><rect x="245.5" y="185" width="2.5" height="10.3" fill="#fff" opacity="0.17"/><rect x="248.0" y="185" width="1.5" height="10.3" fill="#fff" opacity="0.18"/><rect x="249.5" y="185" width="1.0" height="10.3" fill="#fff" opacity="0.36"/><rect x="250.5" y="185" width="1.0" height="10.3" fill="#fff" opacity="0.17"/><rect x="251.5" y="185" width="2.5" height="10.3" fill="#fff" opacity="0.22"/><rect x="254.0" y="185" width="1.0" height="10.3" fill="#fff" opacity="0.19"/><rect x="255.0" y="185" width="3.0" height="10.3" fill="#fff" opacity="0.31"/><rect x="258.0" y="185" width="3.0" height="10.3" fill="#fff" opacity="0.48"/><rect x="261.0" y="185" width="1.0" height="10.3" fill="#fff" opacity="0.49"/><rect x="262.0" y="185" width="1.5" height="10.3" fill="#fff" opacity="0.49"/><rect x="263.5" y="185" width="1.0" height="10.3" fill="#fff" opacity="0.04"/><rect x="266.5" y="185" width="1.5" height="10.3" fill="#fff" opacity="0.14"/><rect x="268.0" y="185" width="1.5" height="10.3" fill="#fff" opacity="0.41"/><rect x="269.5" y="185" width="2.0" height="10.3" fill="#fff" opacity="0.20"/><rect x="271.5" y="185" width="3.0" height="10.3" fill="#fff" opacity="0.46"/><rect x="274.5" y="185" width="3.0" height="10.3" fill="#fff" opacity="0.25"/><rect x="277.5" y="185" width="2.0" height="10.3" fill="#fff" opacity="0.04"/><rect x="279.5" y="185" width="1.0" height="10.3" fill="#fff" opacity="0.40"/><rect x="280.5" y="185" width="1.5" height="10.3" fill="#fff" opacity="0.21"/><rect x="282.0" y="185" width="1.0" height="10.3" fill="#fff" opacity="0.13"/><rect x="283.0" y="185" width="1.0" height="10.3" fill="#fff" opacity="0.32"/><rect x="284.0" y="185" width="2.0" height="10.3" fill="#fff" opacity="0.04"/><rect x="286.0" y="185" width="1.5" height="10.3" fill="#fff" opacity="0.03"/><rect x="287.5" y="185" width="1.0" height="10.3" fill="#fff" opacity="0.23"/><rect x="288.5" y="185" width="2.0" height="10.3" fill="#fff" opacity="0.50"/><rect x="290.5" y="185" width="2.5" height="10.3" fill="#fff" opacity="0.46"/><rect x="293.0" y="185" width="2.0" height="10.3" fill="#fff" opacity="0.31"/><rect x="295.0" y="185" width="1.0" height="10.3" fill="#fff" opacity="0.26"/><rect x="296.0" y="185" width="1.5" height="10.3" fill="#fff" opacity="0.47"/><rect x="297.5" y="185" width="1.5" height="10.3" fill="#fff" opacity="0.13"/><rect x="299.0" y="185" width="1.5" height="10.3" fill="#fff" opacity="0.10"/><rect x="300.5" y="185" width="2.0" height="10.3" fill="#fff" opacity="0.31"/><rect x="302.5" y="185" width="3.0" height="10.3" fill="#fff" opacity="0.38"/><rect x="305.5" y="185" width="2.0" height="10.3" fill="#fff" opacity="0.22"/><rect x="307.5" y="185" width="1.5" height="10.3" fill="#fff" opacity="0.14"/><rect x="309.0" y="185" width="1.0" height="10.3" fill="#fff" opacity="0.50"/>
<rect x="242.6" y="195.3" width="72.4" height="10.199999999999989" fill="url(#g8)" opacity="1"/>
<rect x="243.6" y="195.3" width="3.0" height="10.2" fill="#fff" opacity="0.22"/><rect x="246.6" y="195.3" width="1.5" height="10.2" fill="#fff" opacity="0.21"/><rect x="248.1" y="195.3" width="1.5" height="10.2" fill="#fff" opacity="0.37"/><rect x="249.6" y="195.3" width="1.0" height="10.2" fill="#fff" opacity="0.26"/><rect x="250.6" y="195.3" width="2.5" height="10.2" fill="#fff" opacity="0.26"/><rect x="253.1" y="195.3" width="3.0" height="10.2" fill="#fff" opacity="0.33"/><rect x="256.1" y="195.3" width="2.5" height="10.2" fill="#fff" opacity="0.39"/><rect x="258.6" y="195.3" width="2.0" height="10.2" fill="#fff" opacity="0.28"/><rect x="260.6" y="195.3" width="1.5" height="10.2" fill="#fff" opacity="0.14"/><rect x="262.1" y="195.3" width="1.5" height="10.2" fill="#fff" opacity="0.16"/><rect x="263.6" y="195.3" width="2.0" height="10.2" fill="#fff" opacity="0.39"/><rect x="267.1" y="195.3" width="2.0" height="10.2" fill="#fff" opacity="0.17"/><rect x="269.1" y="195.3" width="1.0" height="10.2" fill="#fff" opacity="0.03"/><rect x="270.1" y="195.3" width="2.5" height="10.2" fill="#fff" opacity="0.35"/><rect x="272.6" y="195.3" width="2.0" height="10.2" fill="#fff" opacity="0.24"/><rect x="276.6" y="195.3" width="1.5" height="10.2" fill="#fff" opacity="0.06"/><rect x="280.6" y="195.3" width="2.0" height="10.2" fill="#fff" opacity="0.38"/><rect x="282.6" y="195.3" width="3.0" height="10.2" fill="#fff" opacity="0.13"/><rect x="285.6" y="195.3" width="1.0" height="10.2" fill="#fff" opacity="0.39"/><rect x="286.6" y="195.3" width="2.0" height="10.2" fill="#fff" opacity="0.09"/><rect x="290.1" y="195.3" width="2.5" height="10.2" fill="#fff" opacity="0.03"/><rect x="292.6" y="195.3" width="2.0" height="10.2" fill="#fff" opacity="0.20"/><rect x="294.6" y="195.3" width="1.5" height="10.2" fill="#fff" opacity="0.10"/><rect x="296.1" y="195.3" width="1.0" height="10.2" fill="#fff" opacity="0.04"/><rect x="297.1" y="195.3" width="1.0" height="10.2" fill="#fff" opacity="0.06"/><rect x="301.1" y="195.3" width="1.0" height="10.2" fill="#fff" opacity="0.12"/><rect x="302.1" y="195.3" width="1.5" height="10.2" fill="#fff" opacity="0.03"/><rect x="303.6" y="195.3" width="3.0" height="10.2" fill="#fff" opacity="0.34"/><rect x="306.6" y="195.3" width="1.5" height="10.2" fill="#fff" opacity="0.26"/><rect x="308.1" y="195.3" width="3.0" height="10.2" fill="#fff" opacity="0.16"/><rect x="311.1" y="195.3" width="2.0" height="10.2" fill="#fff" opacity="0.29"/><rect x="313.1" y="195.3" width="1.9" height="10.2" fill="#fff" opacity="0.06"/>
<rect x="237.5" y="205.5" width="82.5" height="11.5" fill="url(#g9)" opacity="1"/>
<rect x="237.5" y="205.5" width="3.0" height="11.5" fill="#fff" opacity="0.19"/><rect x="240.5" y="205.5" width="1.0" height="11.5" fill="#fff" opacity="0.25"/><rect x="241.5" y="205.5" width="3.0" height="11.5" fill="#fff" opacity="0.19"/><rect x="244.5" y="205.5" width="3.0" height="11.5" fill="#fff" opacity="0.04"/><rect x="247.5" y="205.5" width="3.0" height="11.5" fill="#fff" opacity="0.23"/><rect x="250.5" y="205.5" width="3.0" height="11.5" fill="#fff" opacity="0.25"/><rect x="253.5" y="205.5" width="1.0" height="11.5" fill="#fff" opacity="0.25"/><rect x="254.5" y="205.5" width="3.0" height="11.5" fill="#fff" opacity="0.24"/><rect x="259.0" y="205.5" width="1.0" height="11.5" fill="#fff" opacity="0.04"/><rect x="260.0" y="205.5" width="2.0" height="11.5" fill="#fff" opacity="0.29"/><rect x="262.0" y="205.5" width="2.5" height="11.5" fill="#fff" opacity="0.25"/><rect x="267.5" y="205.5" width="1.0" height="11.5" fill="#fff" opacity="0.19"/><rect x="268.5" y="205.5" width="1.5" height="11.5" fill="#fff" opacity="0.15"/><rect x="270.0" y="205.5" width="1.0" height="11.5" fill="#fff" opacity="0.14"/><rect x="271.0" y="205.5" width="1.0" height="11.5" fill="#fff" opacity="0.22"/><rect x="272.0" y="205.5" width="3.0" height="11.5" fill="#fff" opacity="0.27"/><rect x="275.0" y="205.5" width="1.0" height="11.5" fill="#fff" opacity="0.20"/><rect x="276.0" y="205.5" width="1.0" height="11.5" fill="#fff" opacity="0.22"/><rect x="277.0" y="205.5" width="2.5" height="11.5" fill="#fff" opacity="0.08"/><rect x="279.5" y="205.5" width="1.0" height="11.5" fill="#fff" opacity="0.25"/><rect x="280.5" y="205.5" width="1.5" height="11.5" fill="#fff" opacity="0.22"/><rect x="282.0" y="205.5" width="1.5" height="11.5" fill="#fff" opacity="0.07"/><rect x="283.5" y="205.5" width="2.5" height="11.5" fill="#fff" opacity="0.15"/><rect x="288.5" y="205.5" width="2.0" height="11.5" fill="#fff" opacity="0.23"/><rect x="290.5" y="205.5" width="3.0" height="11.5" fill="#fff" opacity="0.19"/><rect x="295.0" y="205.5" width="1.5" height="11.5" fill="#fff" opacity="0.10"/><rect x="296.5" y="205.5" width="2.0" height="11.5" fill="#fff" opacity="0.19"/><rect x="300.0" y="205.5" width="1.0" height="11.5" fill="#fff" opacity="0.15"/><rect x="301.0" y="205.5" width="1.0" height="11.5" fill="#fff" opacity="0.21"/><rect x="302.0" y="205.5" width="2.5" height="11.5" fill="#fff" opacity="0.09"/><rect x="304.5" y="205.5" width="3.0" height="11.5" fill="#fff" opacity="0.09"/><rect x="307.5" y="205.5" width="2.5" height="11.5" fill="#fff" opacity="0.14"/><rect x="310.0" y="205.5" width="1.0" height="11.5" fill="#fff" opacity="0.30"/><rect x="311.0" y="205.5" width="3.0" height="11.5" fill="#fff" opacity="0.06"/><rect x="314.0" y="205.5" width="1.0" height="11.5" fill="#fff" opacity="0.28"/><rect x="315.0" y="205.5" width="1.0" height="11.5" fill="#fff" opacity="0.09"/><rect x="316.0" y="205.5" width="1.0" height="11.5" fill="#fff" opacity="0.25"/><rect x="317.0" y="205.5" width="2.5" height="11.5" fill="#fff" opacity="0.30"/><rect x="319.5" y="205.5" width="0.5" height="11.5" fill="#fff" opacity="0.06"/>
<rect x="233.7" y="217" width="89.30000000000001" height="12.5" fill="url(#g10)" opacity="1"/>
<rect x="236.2" y="217" width="3.0" height="12.5" fill="#fff" opacity="0.05"/><rect x="241.2" y="217" width="3.0" height="12.5" fill="#fff" opacity="0.06"/><rect x="244.2" y="217" width="1.0" height="12.5" fill="#fff" opacity="0.14"/><rect x="245.2" y="217" width="1.5" height="12.5" fill="#fff" opacity="0.10"/><rect x="246.7" y="217" width="2.5" height="12.5" fill="#fff" opacity="0.08"/><rect x="250.7" y="217" width="2.5" height="12.5" fill="#fff" opacity="0.14"/><rect x="253.2" y="217" width="2.5" height="12.5" fill="#fff" opacity="0.06"/><rect x="255.7" y="217" width="1.5" height="12.5" fill="#fff" opacity="0.08"/><rect x="257.2" y="217" width="2.5" height="12.5" fill="#fff" opacity="0.06"/><rect x="261.7" y="217" width="2.0" height="12.5" fill="#fff" opacity="0.17"/><rect x="263.7" y="217" width="1.0" height="12.5" fill="#fff" opacity="0.19"/><rect x="264.7" y="217" width="1.5" height="12.5" fill="#fff" opacity="0.14"/><rect x="266.2" y="217" width="2.0" height="12.5" fill="#fff" opacity="0.05"/><rect x="268.2" y="217" width="1.0" height="12.5" fill="#fff" opacity="0.08"/><rect x="272.2" y="217" width="2.5" height="12.5" fill="#fff" opacity="0.15"/><rect x="274.7" y="217" width="1.0" height="12.5" fill="#fff" opacity="0.06"/><rect x="275.7" y="217" width="1.0" height="12.5" fill="#fff" opacity="0.17"/><rect x="276.7" y="217" width="2.0" height="12.5" fill="#fff" opacity="0.13"/><rect x="278.7" y="217" width="1.5" height="12.5" fill="#fff" opacity="0.05"/><rect x="280.2" y="217" width="2.0" height="12.5" fill="#fff" opacity="0.09"/><rect x="282.2" y="217" width="2.0" height="12.5" fill="#fff" opacity="0.04"/><rect x="284.2" y="217" width="2.0" height="12.5" fill="#fff" opacity="0.16"/><rect x="286.2" y="217" width="2.5" height="12.5" fill="#fff" opacity="0.18"/><rect x="288.7" y="217" width="2.5" height="12.5" fill="#fff" opacity="0.18"/><rect x="291.2" y="217" width="3.0" height="12.5" fill="#fff" opacity="0.11"/><rect x="295.2" y="217" width="2.5" height="12.5" fill="#fff" opacity="0.09"/><rect x="297.7" y="217" width="1.5" height="12.5" fill="#fff" opacity="0.13"/><rect x="299.2" y="217" width="2.0" height="12.5" fill="#fff" opacity="0.10"/><rect x="304.2" y="217" width="2.5" height="12.5" fill="#fff" opacity="0.08"/><rect x="306.7" y="217" width="2.0" height="12.5" fill="#fff" opacity="0.06"/><rect x="308.7" y="217" width="2.0" height="12.5" fill="#fff" opacity="0.08"/><rect x="310.7" y="217" width="1.5" height="12.5" fill="#fff" opacity="0.06"/><rect x="312.2" y="217" width="3.0" height="12.5" fill="#fff" opacity="0.13"/><rect x="315.2" y="217" width="1.0" height="12.5" fill="#fff" opacity="0.03"/><rect x="317.7" y="217" width="3.0" height="12.5" fill="#fff" opacity="0.18"/><rect x="320.7" y="217" width="2.3" height="12.5" fill="#fff" opacity="0.11"/>
<rect x="230.6" y="229.5" width="99.4" height="14.099999999999994" fill="url(#g11)" opacity="1"/>
<rect x="230.6" y="229.5" width="2.5" height="14.1" fill="#fff" opacity="0.11"/><rect x="233.1" y="229.5" width="2.5" height="14.1" fill="#fff" opacity="0.05"/><rect x="242.6" y="229.5" width="1.5" height="14.1" fill="#fff" opacity="0.04"/><rect x="247.1" y="229.5" width="1.0" height="14.1" fill="#fff" opacity="0.09"/><rect x="248.1" y="229.5" width="2.5" height="14.1" fill="#fff" opacity="0.05"/><rect x="253.6" y="229.5" width="2.0" height="14.1" fill="#fff" opacity="0.04"/><rect x="255.6" y="229.5" width="1.0" height="14.1" fill="#fff" opacity="0.06"/><rect x="256.6" y="229.5" width="3.0" height="14.1" fill="#fff" opacity="0.12"/><rect x="259.6" y="229.5" width="1.5" height="14.1" fill="#fff" opacity="0.08"/><rect x="261.1" y="229.5" width="3.0" height="14.1" fill="#fff" opacity="0.08"/><rect x="265.6" y="229.5" width="1.5" height="14.1" fill="#fff" opacity="0.05"/><rect x="267.1" y="229.5" width="2.5" height="14.1" fill="#fff" opacity="0.05"/><rect x="269.6" y="229.5" width="2.0" height="14.1" fill="#fff" opacity="0.10"/><rect x="272.6" y="229.5" width="2.5" height="14.1" fill="#fff" opacity="0.09"/><rect x="275.1" y="229.5" width="2.5" height="14.1" fill="#fff" opacity="0.12"/><rect x="280.1" y="229.5" width="2.5" height="14.1" fill="#fff" opacity="0.11"/><rect x="282.6" y="229.5" width="3.0" height="14.1" fill="#fff" opacity="0.10"/><rect x="289.1" y="229.5" width="1.5" height="14.1" fill="#fff" opacity="0.06"/><rect x="290.6" y="229.5" width="1.0" height="14.1" fill="#fff" opacity="0.11"/><rect x="296.6" y="229.5" width="1.0" height="14.1" fill="#fff" opacity="0.08"/><rect x="297.6" y="229.5" width="2.0" height="14.1" fill="#fff" opacity="0.12"/><rect x="299.6" y="229.5" width="2.0" height="14.1" fill="#fff" opacity="0.06"/><rect x="301.6" y="229.5" width="2.5" height="14.1" fill="#fff" opacity="0.08"/><rect x="305.1" y="229.5" width="2.0" height="14.1" fill="#fff" opacity="0.06"/><rect x="315.1" y="229.5" width="3.0" height="14.1" fill="#fff" opacity="0.04"/><rect x="318.1" y="229.5" width="2.5" height="14.1" fill="#fff" opacity="0.03"/><rect x="320.6" y="229.5" width="2.0" height="14.1" fill="#fff" opacity="0.08"/><rect x="322.6" y="229.5" width="1.5" height="14.1" fill="#fff" opacity="0.06"/><rect x="324.1" y="229.5" width="1.5" height="14.1" fill="#fff" opacity="0.07"/><rect x="325.6" y="229.5" width="1.0" height="14.1" fill="#fff" opacity="0.12"/><rect x="328.6" y="229.5" width="1.4" height="14.1" fill="#fff" opacity="0.06"/>
<rect x="229.3" y="243.6" width="100.19999999999999" height="15.000000000000028" fill="url(#g12)" opacity="1"/>
<rect x="231.8" y="243.6" width="1.5" height="15.0" fill="#fff" opacity="0.07"/><rect x="235.3" y="243.6" width="1.0" height="15.0" fill="#fff" opacity="0.07"/><rect x="236.3" y="243.6" width="2.5" height="15.0" fill="#fff" opacity="0.04"/><rect x="241.3" y="243.6" width="2.0" height="15.0" fill="#fff" opacity="0.07"/><rect x="246.3" y="243.6" width="2.5" height="15.0" fill="#fff" opacity="0.10"/><rect x="248.8" y="243.6" width="2.0" height="15.0" fill="#fff" opacity="0.08"/><rect x="255.8" y="243.6" width="3.0" height="15.0" fill="#fff" opacity="0.05"/><rect x="258.8" y="243.6" width="1.5" height="15.0" fill="#fff" opacity="0.09"/><rect x="260.3" y="243.6" width="2.5" height="15.0" fill="#fff" opacity="0.04"/><rect x="262.8" y="243.6" width="1.0" height="15.0" fill="#fff" opacity="0.09"/><rect x="263.8" y="243.6" width="1.5" height="15.0" fill="#fff" opacity="0.09"/><rect x="269.3" y="243.6" width="1.0" height="15.0" fill="#fff" opacity="0.07"/><rect x="270.3" y="243.6" width="1.5" height="15.0" fill="#fff" opacity="0.04"/><rect x="271.8" y="243.6" width="2.0" height="15.0" fill="#fff" opacity="0.07"/><rect x="273.8" y="243.6" width="1.0" height="15.0" fill="#fff" opacity="0.09"/><rect x="276.8" y="243.6" width="3.0" height="15.0" fill="#fff" opacity="0.07"/><rect x="279.8" y="243.6" width="1.0" height="15.0" fill="#fff" opacity="0.03"/><rect x="280.8" y="243.6" width="2.5" height="15.0" fill="#fff" opacity="0.08"/><rect x="283.3" y="243.6" width="2.0" height="15.0" fill="#fff" opacity="0.04"/><rect x="288.3" y="243.6" width="2.5" height="15.0" fill="#fff" opacity="0.10"/><rect x="290.8" y="243.6" width="1.0" height="15.0" fill="#fff" opacity="0.06"/><rect x="291.8" y="243.6" width="1.5" height="15.0" fill="#fff" opacity="0.04"/><rect x="293.3" y="243.6" width="2.0" height="15.0" fill="#fff" opacity="0.08"/><rect x="300.3" y="243.6" width="3.0" height="15.0" fill="#fff" opacity="0.09"/><rect x="303.3" y="243.6" width="1.5" height="15.0" fill="#fff" opacity="0.03"/><rect x="312.3" y="243.6" width="1.0" height="15.0" fill="#fff" opacity="0.05"/><rect x="314.3" y="243.6" width="1.0" height="15.0" fill="#fff" opacity="0.09"/><rect x="315.3" y="243.6" width="2.0" height="15.0" fill="#fff" opacity="0.04"/><rect x="317.3" y="243.6" width="2.0" height="15.0" fill="#fff" opacity="0.10"/><rect x="322.3" y="243.6" width="2.0" height="15.0" fill="#fff" opacity="0.09"/><rect x="326.3" y="243.6" width="3.0" height="15.0" fill="#fff" opacity="0.09"/>
<rect x="222.6" y="258.6" width="111.00000000000003" height="18.0" fill="url(#g13)" opacity="1"/>
<rect x="224.1" y="258.6" width="2.5" height="18.0" fill="#fff" opacity="0.08"/><rect x="226.6" y="258.6" width="2.5" height="18.0" fill="#fff" opacity="0.06"/><rect x="229.1" y="258.6" width="2.5" height="18.0" fill="#fff" opacity="0.07"/><rect x="231.6" y="258.6" width="1.5" height="18.0" fill="#fff" opacity="0.07"/><rect x="234.6" y="258.6" width="2.0" height="18.0" fill="#fff" opacity="0.07"/><rect x="236.6" y="258.6" width="1.5" height="18.0" fill="#fff" opacity="0.05"/><rect x="238.1" y="258.6" width="2.0" height="18.0" fill="#fff" opacity="0.07"/><rect x="245.6" y="258.6" width="1.5" height="18.0" fill="#fff" opacity="0.03"/><rect x="248.6" y="258.6" width="1.0" height="18.0" fill="#fff" opacity="0.05"/><rect x="249.6" y="258.6" width="2.5" height="18.0" fill="#fff" opacity="0.04"/><rect x="254.1" y="258.6" width="2.5" height="18.0" fill="#fff" opacity="0.07"/><rect x="258.6" y="258.6" width="2.5" height="18.0" fill="#fff" opacity="0.04"/><rect x="263.6" y="258.6" width="1.5" height="18.0" fill="#fff" opacity="0.03"/><rect x="265.1" y="258.6" width="3.0" height="18.0" fill="#fff" opacity="0.07"/><rect x="268.1" y="258.6" width="1.5" height="18.0" fill="#fff" opacity="0.06"/><rect x="269.6" y="258.6" width="1.0" height="18.0" fill="#fff" opacity="0.06"/><rect x="275.6" y="258.6" width="2.0" height="18.0" fill="#fff" opacity="0.06"/><rect x="277.6" y="258.6" width="1.5" height="18.0" fill="#fff" opacity="0.04"/><rect x="285.1" y="258.6" width="1.0" height="18.0" fill="#fff" opacity="0.03"/><rect x="286.1" y="258.6" width="1.5" height="18.0" fill="#fff" opacity="0.04"/><rect x="287.6" y="258.6" width="1.5" height="18.0" fill="#fff" opacity="0.05"/><rect x="289.1" y="258.6" width="1.0" height="18.0" fill="#fff" opacity="0.05"/><rect x="291.1" y="258.6" width="2.5" height="18.0" fill="#fff" opacity="0.07"/><rect x="293.6" y="258.6" width="1.5" height="18.0" fill="#fff" opacity="0.07"/><rect x="304.1" y="258.6" width="1.5" height="18.0" fill="#fff" opacity="0.04"/><rect x="305.6" y="258.6" width="2.0" height="18.0" fill="#fff" opacity="0.06"/><rect x="308.6" y="258.6" width="3.0" height="18.0" fill="#fff" opacity="0.06"/><rect x="318.6" y="258.6" width="1.5" height="18.0" fill="#fff" opacity="0.07"/><rect x="320.1" y="258.6" width="2.0" height="18.0" fill="#fff" opacity="0.03"/><rect x="326.1" y="258.6" width="1.0" height="18.0" fill="#fff" opacity="0.06"/><rect x="327.1" y="258.6" width="3.0" height="18.0" fill="#fff" opacity="0.04"/><rect x="332.6" y="258.6" width="1.0" height="18.0" fill="#fff" opacity="0.05"/>
<rect x="225.6" y="276.6" width="117.4" height="22.399999999999977" fill="url(#g14)" opacity="1"/>
<rect x="225.6" y="276.6" width="1.5" height="22.4" fill="#fff" opacity="0.04"/><rect x="227.1" y="276.6" width="1.0" height="22.4" fill="#fff" opacity="0.04"/><rect x="228.1" y="276.6" width="2.5" height="22.4" fill="#fff" opacity="0.04"/><rect x="230.6" y="276.6" width="2.5" height="22.4" fill="#fff" opacity="0.06"/><rect x="236.1" y="276.6" width="3.0" height="22.4" fill="#fff" opacity="0.05"/><rect x="241.6" y="276.6" width="2.0" height="22.4" fill="#fff" opacity="0.04"/><rect x="243.6" y="276.6" width="2.5" height="22.4" fill="#fff" opacity="0.04"/><rect x="246.1" y="276.6" width="1.5" height="22.4" fill="#fff" opacity="0.06"/><rect x="247.6" y="276.6" width="2.5" height="22.4" fill="#fff" opacity="0.05"/><rect x="257.1" y="276.6" width="1.0" height="22.4" fill="#fff" opacity="0.03"/><rect x="260.6" y="276.6" width="3.0" height="22.4" fill="#fff" opacity="0.06"/><rect x="272.6" y="276.6" width="2.5" height="22.4" fill="#fff" opacity="0.05"/><rect x="276.6" y="276.6" width="1.0" height="22.4" fill="#fff" opacity="0.06"/><rect x="280.1" y="276.6" width="3.0" height="22.4" fill="#fff" opacity="0.06"/><rect x="285.6" y="276.6" width="3.0" height="22.4" fill="#fff" opacity="0.04"/><rect x="288.6" y="276.6" width="1.5" height="22.4" fill="#fff" opacity="0.04"/><rect x="290.1" y="276.6" width="1.5" height="22.4" fill="#fff" opacity="0.04"/><rect x="291.6" y="276.6" width="3.0" height="22.4" fill="#fff" opacity="0.05"/><rect x="303.6" y="276.6" width="1.5" height="22.4" fill="#fff" opacity="0.06"/><rect x="306.6" y="276.6" width="3.0" height="22.4" fill="#fff" opacity="0.05"/><rect x="309.6" y="276.6" width="1.0" height="22.4" fill="#fff" opacity="0.04"/><rect x="315.6" y="276.6" width="2.0" height="22.4" fill="#fff" opacity="0.04"/><rect x="317.6" y="276.6" width="2.0" height="22.4" fill="#fff" opacity="0.03"/><rect x="326.6" y="276.6" width="1.0" height="22.4" fill="#fff" opacity="0.04"/><rect x="330.1" y="276.6" width="2.5" height="22.4" fill="#fff" opacity="0.05"/><rect x="332.6" y="276.6" width="2.5" height="22.4" fill="#fff" opacity="0.05"/><rect x="341.1" y="276.6" width="1.9" height="22.4" fill="#fff" opacity="0.03"/>
<rect x="72.5" y="149.5" width="132.0" height="150.0" fill="none" stroke="#4a4a4a" stroke-width="1.2"/>
<rect x="217.5" y="149.5" width="131.5" height="150.5" fill="none" stroke="#4a4a4a" stroke-width="1.2"/>
<line x1="68.5" y1="155.5" x2="72.5" y2="155.5" stroke="#333" stroke-width="1"/>
<line x1="213.5" y1="155.5" x2="217.5" y2="155.5" stroke="#333" stroke-width="1"/>
<text x="44.3" y="160.9" font-size="13.8" font-family="Liberation Sans, sans-serif" fill="#111" textLength="14.8" lengthAdjust="spacingAndGlyphs" stroke="#111" stroke-width="0.35">20</text>
<line x1="68.5" y1="174.3" x2="72.5" y2="174.3" stroke="#333" stroke-width="1"/>
<line x1="213.5" y1="174.3" x2="217.5" y2="174.3" stroke="#333" stroke-width="1"/>
<text x="44.3" y="179.7" font-size="13.8" font-family="Liberation Sans, sans-serif" fill="#111" textLength="14.8" lengthAdjust="spacingAndGlyphs" stroke="#111" stroke-width="0.35">18</text>
<line x1="68.5" y1="193.2" x2="72.5" y2="193.2" stroke="#333" stroke-width="1"/>
<line x1="213.5" y1="193.2" x2="217.5" y2="193.2" stroke="#333" stroke-width="1"/>
<text x="44.3" y="198.6" font-size="13.8" font-family="Liberation Sans, sans-serif" fill="#111" textLength="14.8" lengthAdjust="spacingAndGlyphs" stroke="#111" stroke-width="0.35">16</text>
<line x1="68.5" y1="212.0" x2="72.5" y2="212.0" stroke="#333" stroke-width="1"/>
<line x1="213.5" y1="212.0" x2="217.5" y2="212.0" stroke="#333" stroke-width="1"/>
<text x="44.3" y="217.4" font-size="13.8" font-family="Liberation Sans, sans-serif" fill="#111" textLength="14.8" lengthAdjust="spacingAndGlyphs" stroke="#111" stroke-width="0.35">14</text>
<line x1="68.5" y1="230.8" x2="72.5" y2="230.8" stroke="#333" stroke-width="1"/>
<line x1="213.5" y1="230.8" x2="217.5" y2="230.8" stroke="#333" stroke-width="1"/>
<text x="44.3" y="236.2" font-size="13.8" font-family="Liberation Sans, sans-serif" fill="#111" textLength="14.8" lengthAdjust="spacingAndGlyphs" stroke="#111" stroke-width="0.35">12</text>
<line x1="68.5" y1="249.6" x2="72.5" y2="249.6" stroke="#333" stroke-width="1"/>
<line x1="213.5" y1="249.6" x2="217.5" y2="249.6" stroke="#333" stroke-width="1"/>
<text x="44.3" y="255.0" font-size="13.8" font-family="Liberation Sans, sans-serif" fill="#111" textLength="14.8" lengthAdjust="spacingAndGlyphs" stroke="#111" stroke-width="0.35">10</text>
<line x1="68.5" y1="268.5" x2="72.5" y2="268.5" stroke="#333" stroke-width="1"/>
<line x1="213.5" y1="268.5" x2="217.5" y2="268.5" stroke="#333" stroke-width="1"/>
<text x="44.3" y="273.9" font-size="13.8" font-family="Liberation Sans, sans-serif" fill="#111" textLength="7.2" lengthAdjust="spacingAndGlyphs" stroke="#111" stroke-width="0.35">8</text>
<line x1="68.5" y1="287.3" x2="72.5" y2="287.3" stroke="#333" stroke-width="1"/>
<line x1="213.5" y1="287.3" x2="217.5" y2="287.3" stroke="#333" stroke-width="1"/>
<text x="44.3" y="292.7" font-size="13.8" font-family="Liberation Sans, sans-serif" fill="#111" textLength="7.2" lengthAdjust="spacingAndGlyphs" stroke="#111" stroke-width="0.35">6</text>
<line x1="92.5" y1="299.5" x2="92.5" y2="303.0" stroke="#333" stroke-width="1"/>
<line x1="115.5" y1="299.5" x2="115.5" y2="303.0" stroke="#333" stroke-width="1"/>
<line x1="138.5" y1="299.5" x2="138.5" y2="303.0" stroke="#333" stroke-width="1"/>
<line x1="161.5" y1="299.5" x2="161.5" y2="303.0" stroke="#333" stroke-width="1"/>
<line x1="184.5" y1="299.5" x2="184.5" y2="303.0" stroke="#333" stroke-width="1"/>
<line x1="237.3" y1="300" x2="237.3" y2="303.5" stroke="#333" stroke-width="1"/>
<line x1="260.3" y1="300" x2="260.3" y2="303.5" stroke="#333" stroke-width="1"/>
<line x1="283.2" y1="300" x2="283.2" y2="303.5" stroke="#333" stroke-width="1"/>
<line x1="306.2" y1="300" x2="306.2" y2="303.5" stroke="#333" stroke-width="1"/>
<line x1="329.1" y1="300" x2="329.1" y2="303.5" stroke="#333" stroke-width="1"/>
<text x="82.0" y="324.9" font-size="13.8" font-family="Liberation Sans, sans-serif" fill="#111" textLength="20.2" lengthAdjust="spacingAndGlyphs" stroke="#111" stroke-width="0.35">10°</text>
<text x="111.0" y="324.9" font-size="13.8" font-family="Liberation Sans, sans-serif" fill="#111" textLength="12.1" lengthAdjust="spacingAndGlyphs" stroke="#111" stroke-width="0.35">5°</text>
<text x="133.1" y="324.9" font-size="13.8" font-family="Liberation Sans, sans-serif" fill="#111" textLength="12.8" lengthAdjust="spacingAndGlyphs" stroke="#111" stroke-width="0.35">0°</text>
<text x="155.1" y="324.9" font-size="13.8" font-family="Liberation Sans, sans-serif" fill="#111" textLength="12.1" lengthAdjust="spacingAndGlyphs" stroke="#111" stroke-width="0.35">5°</text>
<text x="177.5" y="324.9" font-size="13.8" font-family="Liberation Sans, sans-serif" fill="#111" textLength="20.2" lengthAdjust="spacingAndGlyphs" stroke="#111" stroke-width="0.35">10°</text>
<text x="224.9" y="324.9" font-size="13.8" font-family="Liberation Sans, sans-serif" fill="#111" textLength="20.2" lengthAdjust="spacingAndGlyphs" stroke="#111" stroke-width="0.35">10°</text>
<text x="254.3" y="324.9" font-size="13.8" font-family="Liberation Sans, sans-serif" fill="#111" textLength="12.1" lengthAdjust="spacingAndGlyphs" stroke="#111" stroke-width="0.35">5°</text>
<text x="275.59999999999997" y="324.9" font-size="13.8" font-family="Liberation Sans, sans-serif" fill="#111" textLength="12.8" lengthAdjust="spacingAndGlyphs" stroke="#111" stroke-width="0.35">0°</text>
<text x="297.59999999999997" y="324.9" font-size="13.8" font-family="Liberation Sans, sans-serif" fill="#111" textLength="12.1" lengthAdjust="spacingAndGlyphs" stroke="#111" stroke-width="0.35">5°</text>
<text x="320.4" y="324.9" font-size="13.8" font-family="Liberation Sans, sans-serif" fill="#111" textLength="20.2" lengthAdjust="spacingAndGlyphs" stroke="#111" stroke-width="0.35">10°</text>
<text transform="translate(21.3,264) rotate(-90)" font-size="15.9" font-family="Liberation Sans, sans-serif" fill="#111" stroke="#111" stroke-width="0.35">E<tspan font-size="10.5" dy="3.5">p+</tspan><tspan dy="-3.5"> [MeV]</tspan></text>
<rect x="79.3" y="160.3" width="4.200000000000003" height="93.19999999999999" fill="url(#cmr)" stroke="#333" stroke-width="0.8"/>
<line x1="83.5" y1="177.3" x2="85.5" y2="177.3" stroke="#333" stroke-width="0.7"/>
<line x1="83.5" y1="217.3" x2="85.5" y2="217.3" stroke="#333" stroke-width="0.7"/>
<line x1="83.5" y1="170.2" x2="85.5" y2="170.2" stroke="#333" stroke-width="0.7"/>
<line x1="83.5" y1="210.2" x2="85.5" y2="210.2" stroke="#333" stroke-width="0.7"/>
<line x1="83.5" y1="250.2" x2="85.5" y2="250.2" stroke="#333" stroke-width="0.7"/>
<line x1="83.5" y1="165.2" x2="85.5" y2="165.2" stroke="#333" stroke-width="0.7"/>
<line x1="83.5" y1="205.2" x2="85.5" y2="205.2" stroke="#333" stroke-width="0.7"/>
<line x1="83.5" y1="245.2" x2="85.5" y2="245.2" stroke="#333" stroke-width="0.7"/>
<line x1="83.5" y1="161.3" x2="85.5" y2="161.3" stroke="#333" stroke-width="0.7"/>
<line x1="83.5" y1="201.3" x2="85.5" y2="201.3" stroke="#333" stroke-width="0.7"/>
<line x1="83.5" y1="241.3" x2="85.5" y2="241.3" stroke="#333" stroke-width="0.7"/>
<line x1="83.5" y1="198.2" x2="85.5" y2="198.2" stroke="#333" stroke-width="0.7"/>
<line x1="83.5" y1="238.2" x2="85.5" y2="238.2" stroke="#333" stroke-width="0.7"/>
<line x1="83.5" y1="195.5" x2="85.5" y2="195.5" stroke="#333" stroke-width="0.7"/>
<line x1="83.5" y1="235.5" x2="85.5" y2="235.5" stroke="#333" stroke-width="0.7"/>
<line x1="83.5" y1="193.2" x2="85.5" y2="193.2" stroke="#333" stroke-width="0.7"/>
<line x1="83.5" y1="233.2" x2="85.5" y2="233.2" stroke="#333" stroke-width="0.7"/>
<line x1="83.5" y1="191.1" x2="85.5" y2="191.1" stroke="#333" stroke-width="0.7"/>
<line x1="83.5" y1="231.1" x2="85.5" y2="231.1" stroke="#333" stroke-width="0.7"/>
<line x1="83.5" y1="189.3" x2="87.5" y2="189.3" stroke="#333" stroke-width="0.9"/>
<line x1="83.5" y1="229.3" x2="87.5" y2="229.3" stroke="#333" stroke-width="0.9"/>
<text x="92" y="193.9" font-size="11.6" font-family="Liberation Sans, sans-serif" fill="#333" stroke="#333" stroke-width="0.35">10<tspan font-size="8" dy="-5">10</tspan></text>
<text x="92" y="235" font-size="11.6" font-family="Liberation Sans, sans-serif" fill="#333" stroke="#333" stroke-width="0.35">10<tspan font-size="8" dy="-5">9</tspan></text>
<text transform="translate(126.9,241.5) rotate(-90)" font-size="11.9" font-family="Liberation Sans, sans-serif" fill="#555" textLength="64" lengthAdjust="spacingAndGlyphs" stroke="#555" stroke-width="0.35">N<tspan font-size="8.3" dy="3">p+</tspan><tspan dy="-3">/MeV/sr</tspan></text>
</g>
<g id="pc">
<rect x="67.6" y="336.3" width="277.9" height="160" fill="none" stroke="#8c8c8c" stroke-width="1.1"/>
<line x1="67.5" y1="336" x2="67.5" y2="496.3" stroke="#8c8c8c" stroke-width="1.1"/>
<line x1="67" y1="496.3" x2="346" y2="496.3" stroke="#8c8c8c" stroke-width="1.1"/>
<text x="46.0" y="500.9" font-size="13" font-family="Liberation Sans, sans-serif" fill="#595959" textLength="7.6" lengthAdjust="spacingAndGlyphs" stroke="#595959" stroke-width="0.35">0</text>
<line x1="67.5" y1="450.6" x2="72.5" y2="450.6" stroke="#8c8c8c" stroke-width="1.1"/>
<text x="38.2" y="455.2" font-size="13" font-family="Liberation Sans, sans-serif" fill="#595959" textLength="15.4" lengthAdjust="spacingAndGlyphs" stroke="#595959" stroke-width="0.35">10</text>
<line x1="67.5" y1="404.9" x2="72.5" y2="404.9" stroke="#8c8c8c" stroke-width="1.1"/>
<text x="38.2" y="409.5" font-size="13" font-family="Liberation Sans, sans-serif" fill="#595959" textLength="15.4" lengthAdjust="spacingAndGlyphs" stroke="#595959" stroke-width="0.35">20</text>
<line x1="67.5" y1="359.2" x2="72.5" y2="359.2" stroke="#8c8c8c" stroke-width="1.1"/>
<text x="38.2" y="363.8" font-size="13" font-family="Liberation Sans, sans-serif" fill="#595959" textLength="15.4" lengthAdjust="spacingAndGlyphs" stroke="#595959" stroke-width="0.35">30</text>
<text x="63.8" y="521.9" font-size="13" font-family="Liberation Sans, sans-serif" fill="#595959" textLength="7.6" lengthAdjust="spacingAndGlyphs" stroke="#595959" stroke-width="0.35">4</text>
<line x1="102.3" y1="491.3" x2="102.3" y2="496.3" stroke="#8c8c8c" stroke-width="1.1"/>
<text x="98.5" y="521.9" font-size="13" font-family="Liberation Sans, sans-serif" fill="#595959" textLength="7.6" lengthAdjust="spacingAndGlyphs" stroke="#595959" stroke-width="0.35">6</text>
<line x1="137.1" y1="491.3" x2="137.1" y2="496.3" stroke="#8c8c8c" stroke-width="1.1"/>
<text x="133.3" y="521.9" font-size="13" font-family="Liberation Sans, sans-serif" fill="#595959" textLength="7.6" lengthAdjust="spacingAndGlyphs" stroke="#595959" stroke-width="0.35">8</text>
<line x1="171.8" y1="491.3" x2="171.8" y2="496.3" stroke="#8c8c8c" stroke-width="1.1"/>
<text x="164.3" y="521.9" font-size="13" font-family="Liberation Sans, sans-serif" fill="#595959" textLength="15" lengthAdjust="spacingAndGlyphs" stroke="#595959" stroke-width="0.35">10</text>
<line x1="206.6" y1="491.3" x2="206.6" y2="496.3" stroke="#8c8c8c" stroke-width="1.1"/>
<text x="199.1" y="521.9" font-size="13" font-family="Liberation Sans, sans-serif" fill="#595959" textLength="15" lengthAdjust="spacingAndGlyphs" stroke="#595959" stroke-width="0.35">12</text>
<line x1="241.3" y1="491.3" x2="241.3" y2="496.3" stroke="#8c8c8c" stroke-width="1.1"/>
<text x="233.8" y="521.9" font-size="13" font-family="Liberation Sans, sans-serif" fill="#595959" textLength="15" lengthAdjust="spacingAndGlyphs" stroke="#595959" stroke-width="0.35">14</text>
<line x1="276.1" y1="491.3" x2="276.1" y2="496.3" stroke="#8c8c8c" stroke-width="1.1"/>
<text x="268.6" y="521.9" font-size="13" font-family="Liberation Sans, sans-serif" fill="#595959" textLength="15" lengthAdjust="spacingAndGlyphs" stroke="#595959" stroke-width="0.35">16</text>
<line x1="310.9" y1="491.3" x2="310.9" y2="496.3" stroke="#8c8c8c" stroke-width="1.1"/>
<text x="303.4" y="521.9" font-size="13" font-family="Liberation Sans, sans-serif" fill="#595959" textLength="15" lengthAdjust="spacingAndGlyphs" stroke="#595959" stroke-width="0.35">18</text>
<line x1="345.6" y1="491.3" x2="345.6" y2="496.3" stroke="#8c8c8c" stroke-width="1.1"/>
<text x="338.1" y="521.9" font-size="13" font-family="Liberation Sans, sans-serif" fill="#595959" textLength="15" lengthAdjust="spacingAndGlyphs" stroke="#595959" stroke-width="0.35">20</text>
<text x="141.6" y="543.4" font-size="12.9" font-family="Liberation Sans, sans-serif" fill="#595959" textLength="129.2" lengthAdjust="spacingAndGlyphs" stroke="#595959" stroke-width="0.35">Proton energy [MeV]</text>
<text transform="translate(22,477.5) rotate(-90)" font-size="15.4" font-family="Liberation Sans, sans-serif" fill="#595959" textLength="109" lengthAdjust="spacingAndGlyphs" stroke="#595959" stroke-width="0.35">Angle [degrees]</text>
<polyline points="79.4,395.6 122,419.1 154.6,444.6 182.8,472.3" fill="none" stroke="#a444a8" stroke-width="1.5" stroke-linejoin="round"/>
<polyline points="79.4,355.7 122,364.4 154.4,384.9 182.9,395.0 207.4,408.7 230.1,419.1 251.2,428.2 270.6,436.5 288.9,446.6 307.1,458.9 324,477.6" fill="none" stroke="#6fa6dc" stroke-width="1.5" stroke-linejoin="round"/>
<polyline points="79.4,368.3 122,394.7 154.6,405.8 182.8,419.8 207.6,450" fill="none" stroke="#5a2e9c" stroke-width="1.5" stroke-linejoin="round"/>
<polyline points="79.4,377.6 122,389.5 154.6,403.0 182.8,411.4 207.5,431.6" fill="none" stroke="#72ac4c" stroke-width="1.5" stroke-linejoin="round"/>
<circle cx="79.4" cy="395.6" r="2.6" fill="none" stroke="#a444a8" stroke-width="1"/>
<circle cx="122" cy="419.1" r="2.6" fill="none" stroke="#a444a8" stroke-width="1"/>
<circle cx="154.6" cy="444.6" r="2.6" fill="none" stroke="#a444a8" stroke-width="1"/>
<circle cx="182.8" cy="472.3" r="2.6" fill="none" stroke="#a444a8" stroke-width="1"/>
<circle cx="79.4" cy="355.7" r="2.6" fill="none" stroke="#6fa6dc" stroke-width="1"/>
<circle cx="122" cy="364.4" r="2.6" fill="none" stroke="#6fa6dc" stroke-width="1"/>
<circle cx="154.4" cy="384.9" r="2.6" fill="none" stroke="#6fa6dc" stroke-width="1"/>
<circle cx="182.9" cy="395.0" r="2.6" fill="none" stroke="#6fa6dc" stroke-width="1"/>
<circle cx="207.4" cy="408.7" r="2.6" fill="none" stroke="#6fa6dc" stroke-width="1"/>
<circle cx="230.1" cy="419.1" r="2.6" fill="none" stroke="#6fa6dc" stroke-width="1"/>
<circle cx="251.2" cy="428.2" r="2.6" fill="none" stroke="#6fa6dc" stroke-width="1"/>
<circle cx="270.6" cy="436.5" r="2.6" fill="none" stroke="#6fa6dc" stroke-width="1"/>
<circle cx="288.9" cy="446.6" r="2.6" fill="none" stroke="#6fa6dc" stroke-width="1"/>
<circle cx="307.1" cy="458.9" r="2.6" fill="none" stroke="#6fa6dc" stroke-width="1"/>
<circle cx="324" cy="477.6" r="2.6" fill="none" stroke="#6fa6dc" stroke-width="1"/>
<circle cx="79.4" cy="368.3" r="2.6" fill="none" stroke="#5a2e9c" stroke-width="1"/>
<circle cx="122" cy="394.7" r="2.6" fill="none" stroke="#5a2e9c" stroke-width="1"/>
<circle cx="154.6" cy="405.8" r="2.6" fill="none" stroke="#5a2e9c" stroke-width="1"/>
<circle cx="182.8" cy="419.8" r="2.6" fill="none" stroke="#5a2e9c" stroke-width="1"/>
<circle cx="207.6" cy="450" r="2.6" fill="none" stroke="#5a2e9c" stroke-width="1"/>
<circle cx="79.4" cy="377.6" r="2.6" fill="none" stroke="#72ac4c" stroke-width="1"/>
<circle cx="122" cy="389.5" r="2.6" fill="none" stroke="#72ac4c" stroke-width="1"/>
<circle cx="154.6" cy="403.0" r="2.6" fill="none" stroke="#72ac4c" stroke-width="1"/>
<circle cx="182.8" cy="411.4" r="2.6" fill="none" stroke="#72ac4c" stroke-width="1"/>
<circle cx="207.5" cy="431.6" r="2.6" fill="none" stroke="#72ac4c" stroke-width="1"/>
<circle cx="247.9" cy="352.8" r="4.3" fill="none" stroke="#a444a8" stroke-width="1.4"/>
<text x="258.4" y="356.2" font-size="13.1" font-family="Liberation Sans, sans-serif" fill="#111" textLength="59.9" lengthAdjust="spacingAndGlyphs" stroke="#111" stroke-width="0.35">Al 1.5 μm</text>
<circle cx="247.9" cy="371.1" r="4.3" fill="none" stroke="#6fa6dc" stroke-width="1.4"/>
<text x="258.4" y="374.5" font-size="13.1" font-family="Liberation Sans, sans-serif" fill="#111" textLength="70.2" lengthAdjust="spacingAndGlyphs" stroke="#111" stroke-width="0.35">Foam 4 μm</text>
<circle cx="247.9" cy="389.4" r="4.3" fill="none" stroke="#5a2e9c" stroke-width="1.4"/>
<text x="258.4" y="392.8" font-size="13.1" font-family="Liberation Sans, sans-serif" fill="#111" textLength="70.2" lengthAdjust="spacingAndGlyphs" stroke="#111" stroke-width="0.35">Foam 8 μm</text>
<circle cx="247.9" cy="407.7" r="4.3" fill="none" stroke="#72ac4c" stroke-width="1.4"/>
<text x="258.4" y="411.1" font-size="13.1" font-family="Liberation Sans, sans-serif" fill="#111" textLength="78.6" lengthAdjust="spacingAndGlyphs" stroke="#111" stroke-width="0.35">Foam 12 μm</text>
</g>
</svg>
</body></html>
